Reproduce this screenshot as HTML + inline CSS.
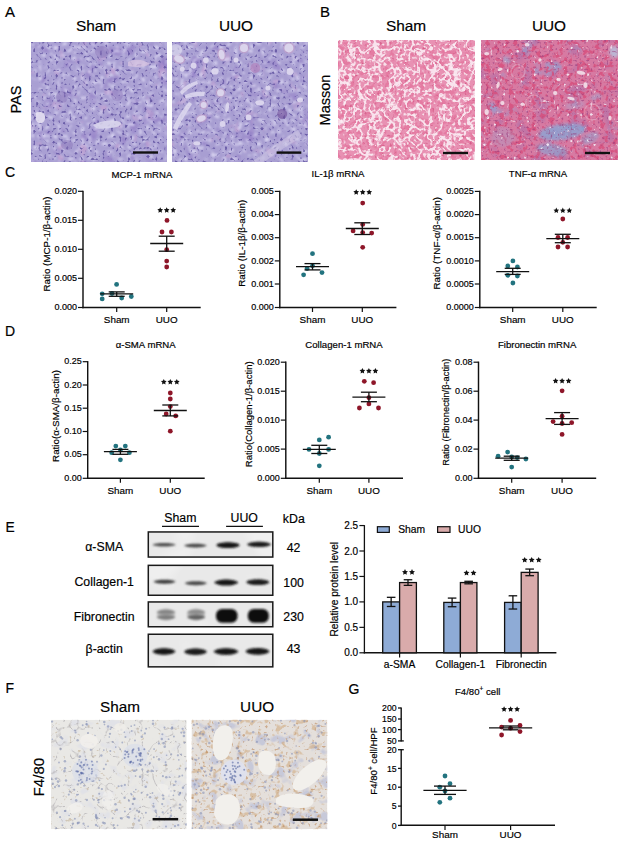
<!DOCTYPE html><html><head><meta charset="utf-8"><style>html,body{margin:0;padding:0;background:#fff;width:624px;height:845px;overflow:hidden;position:relative}</style></head><body><svg width="624" height="845" viewBox="0 0 624 845" style="position:absolute;left:0;top:0">
<defs><filter id="bl6" x="-5%" y="-5%" width="110%" height="110%"><feGaussianBlur stdDeviation="0.6"/></filter><filter id="bl8" x="-5%" y="-5%" width="110%" height="110%"><feGaussianBlur stdDeviation="0.9"/></filter><filter id="bl15" x="-5%" y="-5%" width="110%" height="110%"><feGaussianBlur stdDeviation="1.6"/></filter><filter id="pd" x="0" y="0" width="100%" height="100%" color-interpolation-filters="sRGB"><feTurbulence type="fractalNoise" baseFrequency="0.36" numOctaves="1" seed="3"/><feColorMatrix type="matrix" values="0 0 0 0 0.361 0 0 0 0 0.306 0 0 0 0 0.620 7 0 0 0 -4.095"/><feComponentTransfer><feFuncA type="linear" slope="0.8"/></feComponentTransfer><feGaussianBlur stdDeviation="0.7"/></filter><filter id="pl" x="0" y="0" width="100%" height="100%" color-interpolation-filters="sRGB"><feTurbulence type="fractalNoise" baseFrequency="0.26" numOctaves="2" seed="8"/><feColorMatrix type="matrix" values="0 0 0 0 0.882 0 0 0 0 0.871 0 0 0 0 0.965 6 0 0 0 -3.300"/><feComponentTransfer><feFuncA type="linear" slope="0.9"/></feComponentTransfer><feGaussianBlur stdDeviation="0.8"/></filter><filter id="pm" x="0" y="0" width="100%" height="100%" color-interpolation-filters="sRGB"><feTurbulence type="fractalNoise" baseFrequency="0.07" numOctaves="2" seed="11"/><feColorMatrix type="matrix" values="0 0 0 0 0.588 0 0 0 0 0.510 0 0 0 0 0.784 4 0 0 0 -2.320"/></filter><filter id="pf" x="0" y="0" width="100%" height="100%" color-interpolation-filters="sRGB"><feTurbulence type="fractalNoise" baseFrequency="0.5" numOctaves="1" seed="14"/><feColorMatrix type="matrix" values="0 0 0 0 0.373 0 0 0 0 0.306 0 0 0 0 0.647 8 0 0 0 -4.960"/><feComponentTransfer><feFuncA type="linear" slope="0.6"/></feComponentTransfer><feGaussianBlur stdDeviation="0.7"/></filter><filter id="pf2" x="0" y="0" width="100%" height="100%" color-interpolation-filters="sRGB"><feTurbulence type="fractalNoise" baseFrequency="0.5" numOctaves="1" seed="34"/><feColorMatrix type="matrix" values="0 0 0 0 0.373 0 0 0 0 0.306 0 0 0 0 0.647 8 0 0 0 -4.960"/><feComponentTransfer><feFuncA type="linear" slope="0.6"/></feComponentTransfer><feGaussianBlur stdDeviation="0.7"/></filter><filter id="pk" x="0" y="0" width="100%" height="100%" color-interpolation-filters="sRGB"><feTurbulence type="fractalNoise" baseFrequency="0.09" numOctaves="2" seed="13"/><feColorMatrix type="matrix" values="0 0 0 0 0.784 0 0 0 0 0.627 0 0 0 0 0.824 5 0 0 0 -3.100"/><feComponentTransfer><feFuncA type="linear" slope="0.6"/></feComponentTransfer></filter><filter id="pd2" x="0" y="0" width="100%" height="100%" color-interpolation-filters="sRGB"><feTurbulence type="fractalNoise" baseFrequency="0.36" numOctaves="1" seed="21"/><feColorMatrix type="matrix" values="0 0 0 0 0.361 0 0 0 0 0.306 0 0 0 0 0.620 7 0 0 0 -4.095"/><feComponentTransfer><feFuncA type="linear" slope="0.8"/></feComponentTransfer><feGaussianBlur stdDeviation="0.7"/></filter><filter id="pl2" x="0" y="0" width="100%" height="100%" color-interpolation-filters="sRGB"><feTurbulence type="fractalNoise" baseFrequency="0.26" numOctaves="2" seed="28"/><feColorMatrix type="matrix" values="0 0 0 0 0.882 0 0 0 0 0.871 0 0 0 0 0.965 6 0 0 0 -3.300"/><feComponentTransfer><feFuncA type="linear" slope="0.9"/></feComponentTransfer><feGaussianBlur stdDeviation="0.8"/></filter><filter id="pm2" x="0" y="0" width="100%" height="100%" color-interpolation-filters="sRGB"><feTurbulence type="fractalNoise" baseFrequency="0.07" numOctaves="2" seed="31"/><feColorMatrix type="matrix" values="0 0 0 0 0.588 0 0 0 0 0.510 0 0 0 0 0.784 4 0 0 0 -2.320"/></filter><filter id="pk2" x="0" y="0" width="100%" height="100%" color-interpolation-filters="sRGB"><feTurbulence type="fractalNoise" baseFrequency="0.09" numOctaves="2" seed="33"/><feColorMatrix type="matrix" values="0 0 0 0 0.784 0 0 0 0 0.627 0 0 0 0 0.824 5 0 0 0 -3.100"/><feComponentTransfer><feFuncA type="linear" slope="0.6"/></feComponentTransfer></filter><clipPath id="c1"><rect x="31" y="42" width="136" height="120"/></clipPath><clipPath id="c2"><rect x="172" y="42" width="136" height="120"/></clipPath><filter id="mt" x="0" y="0" width="100%" height="100%" color-interpolation-filters="sRGB"><feTurbulence type="fractalNoise" baseFrequency="0.2" numOctaves="2" seed="5"/><feColorMatrix type="matrix" values="0 0 0 0 0.882 0 0 0 0 0.392 0 0 0 0 0.569 6 0 0 0 -2.880"/><feComponentTransfer><feFuncA type="linear" slope="0.5"/></feComponentTransfer><feGaussianBlur stdDeviation="0.6"/></filter><filter id="mv" x="0" y="0" width="100%" height="100%" color-interpolation-filters="sRGB"><feTurbulence type="turbulence" baseFrequency="0.1" numOctaves="2" seed="6"/><feColorMatrix type="matrix" values="0 0 0 0 0.980 0 0 0 0 0.925 0 0 0 0 0.957 -10 0 0 0 2.000"/><feComponentTransfer><feFuncA type="linear" slope="0.9"/></feComponentTransfer><feGaussianBlur stdDeviation="0.7"/></filter><filter id="mw" x="0" y="0" width="100%" height="100%" color-interpolation-filters="sRGB"><feTurbulence type="fractalNoise" baseFrequency="0.3" numOctaves="1" seed="7"/><feColorMatrix type="matrix" values="0 0 0 0 0.980 0 0 0 0 0.933 0 0 0 0 0.953 7 0 0 0 -3.920"/><feComponentTransfer><feFuncA type="linear" slope="0.85"/></feComponentTransfer><feGaussianBlur stdDeviation="0.7"/></filter><filter id="md" x="0" y="0" width="100%" height="100%" color-interpolation-filters="sRGB"><feTurbulence type="fractalNoise" baseFrequency="0.4" numOctaves="1" seed="9"/><feColorMatrix type="matrix" values="0 0 0 0 0.784 0 0 0 0 0.235 0 0 0 0 0.431 7 0 0 0 -4.340"/><feComponentTransfer><feFuncA type="linear" slope="0.5"/></feComponentTransfer><feGaussianBlur stdDeviation="0.5"/></filter><clipPath id="c3"><rect x="338" y="40" width="137" height="120"/></clipPath><filter id="ub" x="0" y="0" width="100%" height="100%" color-interpolation-filters="sRGB"><feTurbulence type="fractalNoise" baseFrequency="0.05" numOctaves="3" seed="15"/><feColorMatrix type="matrix" values="0 0 0 0 0.510 0 0 0 0 0.667 0 0 0 0 0.863 5 0 0 0 -3.200"/><feComponentTransfer><feFuncA type="linear" slope="0.6"/></feComponentTransfer></filter><filter id="up" x="0" y="0" width="100%" height="100%" color-interpolation-filters="sRGB"><feTurbulence type="fractalNoise" baseFrequency="0.06" numOctaves="2" seed="16"/><feColorMatrix type="matrix" values="0 0 0 0 0.647 0 0 0 0 0.431 0 0 0 0 0.667 5 0 0 0 -2.750"/><feComponentTransfer><feFuncA type="linear" slope="0.5"/></feComponentTransfer></filter><filter id="ut" x="0" y="0" width="100%" height="100%" color-interpolation-filters="sRGB"><feTurbulence type="fractalNoise" baseFrequency="0.22" numOctaves="2" seed="17"/><feColorMatrix type="matrix" values="0 0 0 0 0.843 0 0 0 0 0.294 0 0 0 0 0.471 7 0 0 0 -3.640"/><feComponentTransfer><feFuncA type="linear" slope="0.75"/></feComponentTransfer><feGaussianBlur stdDeviation="0.7"/></filter><filter id="uw" x="0" y="0" width="100%" height="100%" color-interpolation-filters="sRGB"><feTurbulence type="fractalNoise" baseFrequency="0.3" numOctaves="1" seed="19"/><feColorMatrix type="matrix" values="0 0 0 0 0.961 0 0 0 0 0.922 0 0 0 0 0.961 9 0 0 0 -5.940"/><feComponentTransfer><feFuncA type="linear" slope="0.9"/></feComponentTransfer><feGaussianBlur stdDeviation="0.5"/></filter><filter id="ud" x="0" y="0" width="100%" height="100%" color-interpolation-filters="sRGB"><feTurbulence type="fractalNoise" baseFrequency="0.45" numOctaves="1" seed="23"/><feColorMatrix type="matrix" values="0 0 0 0 0.588 0 0 0 0 0.235 0 0 0 0 0.490 7 0 0 0 -4.200"/><feComponentTransfer><feFuncA type="linear" slope="0.6"/></feComponentTransfer><feGaussianBlur stdDeviation="0.6"/></filter><clipPath id="c4"><rect x="481" y="40" width="137" height="120"/></clipPath><filter id="bb1" x="-5%" y="-5%" width="110%" height="110%"><feGaussianBlur stdDeviation="1.0"/></filter><filter id="bb2" x="-5%" y="-5%" width="110%" height="110%"><feGaussianBlur stdDeviation="0.8"/></filter><filter id="wbn" x="0" y="0" width="100%" height="100%" color-interpolation-filters="sRGB"><feTurbulence type="fractalNoise" baseFrequency="0.02" numOctaves="2" seed="41"/><feColorMatrix type="matrix" values="0 0 0 0 0.961 0 0 0 0 0.961 0 0 0 0 0.961 5 0 0 0 -2.750"/><feComponentTransfer><feFuncA type="linear" slope="0.5"/></feComponentTransfer></filter><filter id="fs1" x="0" y="0" width="100%" height="100%" color-interpolation-filters="sRGB"><feTurbulence type="fractalNoise" baseFrequency="0.1" numOctaves="2" seed="51"/><feColorMatrix type="matrix" values="0 0 0 0 0.863 0 0 0 0 0.871 0 0 0 0 0.910 6 0 0 0 -3.300"/><feComponentTransfer><feFuncA type="linear" slope="0.6"/></feComponentTransfer><feGaussianBlur stdDeviation="0.6"/></filter><filter id="fsv" x="0" y="0" width="100%" height="100%" color-interpolation-filters="sRGB"><feTurbulence type="turbulence" baseFrequency="0.07" numOctaves="2" seed="57"/><feColorMatrix type="matrix" values="0 0 0 0 0.686 0 0 0 0 0.675 0 0 0 0 0.686 -10 0 0 0 1.000"/><feComponentTransfer><feFuncA type="linear" slope="0.65"/></feComponentTransfer><feGaussianBlur stdDeviation="0.5"/></filter><filter id="fsb" x="0" y="0" width="100%" height="100%" color-interpolation-filters="sRGB"><feTurbulence type="fractalNoise" baseFrequency="0.22" numOctaves="2" seed="55"/><feColorMatrix type="matrix" values="0 0 0 0 0.686 0 0 0 0 0.588 0 0 0 0 0.451 8 0 0 0 -5.440"/><feComponentTransfer><feFuncA type="linear" slope="0.4"/></feComponentTransfer><feGaussianBlur stdDeviation="0.5"/></filter><clipPath id="c5"><rect x="51" y="719.7" width="135.7" height="109.5"/></clipPath><filter id="fu1" x="0" y="0" width="100%" height="100%" color-interpolation-filters="sRGB"><feTurbulence type="fractalNoise" baseFrequency="0.16" numOctaves="2" seed="71"/><feColorMatrix type="matrix" values="0 0 0 0 0.804 0 0 0 0 0.647 0 0 0 0 0.471 7 0 0 0 -4.060"/><feComponentTransfer><feFuncA type="linear" slope="0.55"/></feComponentTransfer><feGaussianBlur stdDeviation="0.5"/></filter><filter id="fu2" x="0" y="0" width="100%" height="100%" color-interpolation-filters="sRGB"><feTurbulence type="fractalNoise" baseFrequency="0.09" numOctaves="2" seed="73"/><feColorMatrix type="matrix" values="0 0 0 0 0.686 0 0 0 0 0.714 0 0 0 0 0.843 6 0 0 0 -3.360"/><feComponentTransfer><feFuncA type="linear" slope="0.55"/></feComponentTransfer><feGaussianBlur stdDeviation="0.5"/></filter><filter id="fub" x="0" y="0" width="100%" height="100%" color-interpolation-filters="sRGB"><feTurbulence type="fractalNoise" baseFrequency="0.35" numOctaves="1" seed="77"/><feColorMatrix type="matrix" values="0 0 0 0 0.725 0 0 0 0 0.510 0 0 0 0 0.314 8 0 0 0 -4.960"/><feComponentTransfer><feFuncA type="linear" slope="0.55"/></feComponentTransfer><feGaussianBlur stdDeviation="0.5"/></filter><clipPath id="c6"><rect x="191.5" y="719.7" width="135.9" height="109.5"/></clipPath></defs>
<g font-family="Liberation Sans, sans-serif" stroke-linecap="butt"><style>text{stroke:#000;stroke-width:0.18px}</style>
<text x="5" y="17" font-size="15" text-anchor="start" fill="#000">A</text>
<text x="320" y="17" font-size="15" text-anchor="start" fill="#000">B</text>
<text x="96" y="31.3" font-size="15.4" text-anchor="middle" fill="#000">Sham</text>
<text x="236" y="31.3" font-size="15.4" text-anchor="middle" fill="#000">UUO</text>
<text x="406" y="31.3" font-size="15.4" text-anchor="middle" fill="#000">Sham</text>
<text x="549" y="31.3" font-size="15.4" text-anchor="middle" fill="#000">UUO</text>
<text x="21.2" y="99.5" font-size="14.5" text-anchor="middle" fill="#000" transform="rotate(-90 21.2 99.5)">PAS</text>
<text x="330" y="100" font-size="14.5" text-anchor="middle" fill="#000" transform="rotate(-90 330 100)">Masson</text>
<g clip-path="url(#c1)">
<rect x="31" y="42" width="136" height="120" fill="#a99fd3"/>
<rect x="31" y="42" width="136" height="120" filter="url(#pm)"/>
<rect x="31" y="42" width="136" height="120" filter="url(#pk)"/>
<rect x="31" y="42" width="136" height="120" filter="url(#pl)"/>
<rect x="31" y="42" width="136" height="120" filter="url(#pd)"/>
<g filter="url(#bl6)">
<path d="M93,125 C100,121 112,119 120,122 C124,124 118,128 110,128 C103,129 96,130 93,125Z" fill="#dcd8ee" opacity="0.85"/>
<path d="M36,113 C40,110 46,113 45,119 C44,124 38,125 36,120Z" fill="#e6e2f2" opacity="0.85"/>
<path d="M128,62 C135,58 145,60 150,64 C146,67 136,68 128,66Z" fill="#d8c4e2" opacity="0.75"/>
<ellipse cx="102" cy="52" rx="7" ry="6" fill="#8a74b8" opacity="0.5"/>
<ellipse cx="62" cy="97" rx="6" ry="6" fill="#8a74b8" opacity="0.45"/>
<ellipse cx="67" cy="145" rx="6" ry="5" fill="#8a74b8" opacity="0.45"/>
<ellipse cx="117" cy="95" rx="6" ry="6" fill="#8a74b8" opacity="0.4"/>
</g>
</g>
<g clip-path="url(#c2)">
<rect x="172" y="42" width="136" height="120" fill="#a89ed2"/>
<rect x="172" y="42" width="136" height="120" filter="url(#pm2)"/>
<rect x="172" y="42" width="136" height="120" filter="url(#pk2)"/>
<rect x="172" y="42" width="136" height="120" filter="url(#pl2)"/>
<rect x="172" y="42" width="136" height="120" filter="url(#pd2)"/>
<g filter="url(#bl6)">
<ellipse cx="179" cy="59" rx="6.3" ry="4.8" transform="rotate(20 179 59)" fill="#c0a2cc" opacity="0.8"/>
<ellipse cx="179" cy="59" rx="5" ry="3.5" transform="rotate(20 179 59)" fill="#dcd7ee" opacity="0.95"/>
<ellipse cx="221.6" cy="54.6" rx="4.3" ry="6.3" transform="rotate(-10 221.6 54.6)" fill="#c0a2cc" opacity="0.8"/>
<ellipse cx="221.6" cy="54.6" rx="3" ry="5" transform="rotate(-10 221.6 54.6)" fill="#dcd7ee" opacity="0.95"/>
<ellipse cx="193.6" cy="65.8" rx="3" ry="3" fill="#dcd7ee" opacity="0.95"/>
<ellipse cx="205.9" cy="60.2" rx="2.8" ry="2.8" fill="#dcd7ee" opacity="0.95"/>
<ellipse cx="214.9" cy="71.4" rx="3.5" ry="3.2" fill="#dcd7ee" opacity="0.95"/>
<ellipse cx="182.3" cy="69.2" rx="2.5" ry="2.5" fill="#dcd7ee" opacity="0.95"/>
<path d="M180,92 C184,86 190,83 197,81 L198,84 C192,86 186,90 182,95Z" fill="#dcd7ee" opacity="0.9"/>
<path d="M185,95 C191,92 199,91 205,92 L204,96 C198,96 191,97 186,98Z" fill="#dcd7ee" opacity="0.9"/>
<ellipse cx="220.5" cy="92.7" rx="4.8" ry="4.8" fill="#c0a2cc" opacity="0.8"/>
<ellipse cx="220.5" cy="92.7" rx="3.5" ry="3.5" fill="#dcd7ee" opacity="0.95"/>
<path d="M173,128 C176,120 182,110 189,102 L192,104 C187,112 181,121 177,130Z" fill="#dcd7ee" opacity="0.9"/>
<ellipse cx="201.4" cy="118.5" rx="5.8" ry="4.1" transform="rotate(-20 201.4 118.5)" fill="#c0a2cc" opacity="0.8"/>
<ellipse cx="201.4" cy="118.5" rx="4.5" ry="2.8" transform="rotate(-20 201.4 118.5)" fill="#dcd7ee" opacity="0.95"/>
<ellipse cx="227.2" cy="107.3" rx="1.8" ry="5" transform="rotate(10 227.2 107.3)" fill="#dcd7ee" opacity="0.95"/>
<ellipse cx="222.7" cy="124.1" rx="3" ry="3" fill="#dcd7ee" opacity="0.95"/>
<ellipse cx="196.9" cy="143.2" rx="3.5" ry="2" fill="#dcd7ee" opacity="0.95"/>
<path d="M252,162 C265,152 280,141 298,130 L302,137 C285,147 270,157 262,164Z" fill="#cfc8e6" opacity="0.55"/>
<ellipse cx="244" cy="47.9" rx="5.3" ry="5.3" fill="#c0a2cc" opacity="0.8"/>
<ellipse cx="244" cy="47.9" rx="4" ry="4" fill="#dcd7ee" opacity="0.95"/>
<ellipse cx="255.3" cy="68" rx="5" ry="5" fill="#b07ab8" opacity="0.6"/>
<ellipse cx="290" cy="71.4" rx="3.5" ry="3.5" fill="#dcd7ee" opacity="0.95"/>
<ellipse cx="288.9" cy="47.9" rx="5.8" ry="5.8" fill="#c0a2cc" opacity="0.8"/>
<ellipse cx="288.9" cy="47.9" rx="4.5" ry="4.5" fill="#dcd7ee" opacity="0.95"/>
<ellipse cx="259.7" cy="102.8" rx="4.5" ry="2.5" fill="#dcd7ee" opacity="0.95"/>
<ellipse cx="248.5" cy="117.4" rx="3" ry="3" fill="#dcd7ee" opacity="0.95"/>
<ellipse cx="282.2" cy="114" rx="5" ry="5" fill="#6e4c98" opacity="0.6"/>
<ellipse cx="203.7" cy="105" rx="4.3" ry="4.3" fill="#c0a2cc" opacity="0.8"/>
<ellipse cx="203.7" cy="105" rx="3" ry="3" fill="#dcd7ee" opacity="0.95"/>
<ellipse cx="176" cy="50" rx="6" ry="6" fill="#dcd8ee" opacity="0.7"/>
<ellipse cx="236" cy="60" rx="2.5" ry="2.5" fill="#dcd7ee" opacity="0.95"/>
<ellipse cx="268" cy="88" rx="2.5" ry="2.5" fill="#dcd7ee" opacity="0.95"/>
<ellipse cx="300" cy="100" rx="3" ry="2.5" fill="#dcd7ee" opacity="0.95"/>
</g>
</g>
<g clip-path="url(#c3)">
<rect x="338" y="40" width="137" height="120" fill="#e891b3"/>
<rect x="338" y="40" width="137" height="120" filter="url(#mt)"/>
<rect x="338" y="40" width="137" height="120" filter="url(#mv)"/>
<rect x="338" y="40" width="137" height="120" filter="url(#mw)"/>
<rect x="338" y="40" width="137" height="120" filter="url(#md)"/>
</g>
<g clip-path="url(#c4)">
<rect x="481" y="40" width="137" height="120" fill="#d77aa2"/>
<rect x="481" y="40" width="137" height="120" filter="url(#up)"/>
<rect x="481" y="40" width="137" height="120" filter="url(#ub)"/>
<rect x="481" y="40" width="137" height="120" filter="url(#ut)"/>
<g filter="url(#bl15)">
<ellipse cx="562" cy="132" rx="24" ry="8" transform="rotate(-8 562 132)" fill="#72b4e6" opacity="0.6"/>
<ellipse cx="552" cy="150" rx="16" ry="6" transform="rotate(10 552 150)" fill="#72b4e6" opacity="0.5"/>
<ellipse cx="590" cy="138" rx="10" ry="5" transform="rotate(-25 590 138)" fill="#80b8e4" opacity="0.45"/>
<ellipse cx="503" cy="137" rx="12" ry="10" fill="#9ab0d8" opacity="0.3"/>
<ellipse cx="507" cy="60" rx="5" ry="3" transform="rotate(30 507 60)" fill="#8fb8e0" opacity="0.6"/>
<ellipse cx="614" cy="52" rx="5" ry="6" fill="#b0d0e8" opacity="0.7"/>
<ellipse cx="596" cy="97" rx="6" ry="2.5" transform="rotate(-20 596 97)" fill="#8fb8e0" opacity="0.5"/>
<ellipse cx="575" cy="105" rx="10" ry="4" transform="rotate(-10 575 105)" fill="#9ab8e0" opacity="0.35"/>
</g>
<rect x="481" y="40" width="137" height="120" filter="url(#uw)"/>
<rect x="481" y="40" width="137" height="120" filter="url(#ud)"/>
<g filter="url(#bl6)">
<ellipse cx="581" cy="72.8" rx="4.25" ry="1.87" transform="rotate(10 581 72.8)" fill="#f6eef4" opacity="0.8"/>
<ellipse cx="558.5" cy="79.5" rx="2.125" ry="1.7" fill="#f6eef4" opacity="0.8"/>
<ellipse cx="585.5" cy="85.1" rx="2.125" ry="2.975" fill="#f6eef4" opacity="0.8"/>
<ellipse cx="570.9" cy="98.6" rx="3.8249999999999997" ry="1.53" transform="rotate(15 570.9 98.6)" fill="#f6eef4" opacity="0.8"/>
<ellipse cx="555.2" cy="93" rx="2.125" ry="2.125" fill="#f6eef4" opacity="0.8"/>
<ellipse cx="498" cy="85.1" rx="1.53" ry="3.4" transform="rotate(15 498 85.1)" fill="#f6eef4" opacity="0.8"/>
<ellipse cx="486.7" cy="112" rx="2.125" ry="2.975" fill="#f6eef4" opacity="0.8"/>
<ellipse cx="502.4" cy="103" rx="2.125" ry="2.125" fill="#f6eef4" opacity="0.8"/>
<ellipse cx="522.6" cy="104.2" rx="2.125" ry="1.7" fill="#f6eef4" opacity="0.8"/>
<ellipse cx="486.7" cy="53.7" rx="2.55" ry="1.7" fill="#f6eef4" opacity="0.8"/>
<ellipse cx="500.2" cy="69.4" rx="2.55" ry="1.53" transform="rotate(-20 500.2 69.4)" fill="#f6eef4" opacity="0.8"/>
<ellipse cx="527" cy="44.7" rx="2.55" ry="1.7" fill="#f6eef4" opacity="0.8"/>
<ellipse cx="610" cy="118" rx="1.7" ry="2.55" fill="#f6eef4" opacity="0.8"/>
<ellipse cx="540" cy="60" rx="1.7" ry="1.7" fill="#f6eef4" opacity="0.8"/>
<ellipse cx="592.2" cy="112" rx="8" ry="8" fill="none" opacity="0.35" stroke="#f0d0e0" stroke-width="1.3"/>
<ellipse cx="533.8" cy="103" rx="8" ry="8" fill="none" opacity="0.35" stroke="#f0d0e0" stroke-width="1.3"/>
<ellipse cx="518" cy="71.7" rx="7" ry="7" fill="none" opacity="0.35" stroke="#f0d0e0" stroke-width="1.3"/>
</g>
</g>
<line x1="133" y1="152.5" x2="158" y2="152.5" stroke="#111" stroke-width="2.4"/>
<line x1="276.6" y1="152.6" x2="301.3" y2="152.6" stroke="#111" stroke-width="2.4"/>
<line x1="443" y1="153" x2="468" y2="153" stroke="#111" stroke-width="2.4"/>
<line x1="585" y1="153" x2="610" y2="153" stroke="#111" stroke-width="2.4"/>
<line x1="83" y1="190.70000000000002" x2="83" y2="308.2" stroke="#111" stroke-width="1.45"/>
<line x1="82.3" y1="307.5" x2="200.7" y2="307.5" stroke="#111" stroke-width="1.45"/>
<line x1="78" y1="191.3" x2="83" y2="191.3" stroke="#111" stroke-width="1.2"/>
<text x="77" y="194.0" font-size="9" text-anchor="end" fill="#000">0.020</text>
<line x1="78" y1="220.3" x2="83" y2="220.3" stroke="#111" stroke-width="1.2"/>
<text x="77" y="223.0" font-size="9" text-anchor="end" fill="#000">0.015</text>
<line x1="78" y1="249.3" x2="83" y2="249.3" stroke="#111" stroke-width="1.2"/>
<text x="77" y="252.0" font-size="9" text-anchor="end" fill="#000">0.010</text>
<line x1="78" y1="278.3" x2="83" y2="278.3" stroke="#111" stroke-width="1.2"/>
<text x="77" y="281.0" font-size="9" text-anchor="end" fill="#000">0.005</text>
<line x1="78" y1="307.5" x2="83" y2="307.5" stroke="#111" stroke-width="1.2"/>
<text x="77" y="310.2" font-size="9" text-anchor="end" fill="#000">0.000</text>
<line x1="116.7" y1="307.5" x2="116.7" y2="312.0" stroke="#111" stroke-width="1.2"/>
<line x1="166.7" y1="307.5" x2="166.7" y2="312.0" stroke="#111" stroke-width="1.2"/>
<text x="116.7" y="322.8" font-size="9.9" text-anchor="middle" fill="#000">Sham</text>
<text x="166.7" y="322.8" font-size="9.9" text-anchor="middle" fill="#000">UUO</text>
<text x="142" y="178" font-size="9.6" text-anchor="middle" fill="#000">MCP-1 mRNA</text>
<text x="49.5" y="244" font-size="9.8" text-anchor="middle" fill="#000" transform="rotate(-90 49.5 244)">Ratio (MCP-1/β-actin)</text>
<circle cx="116.6" cy="284.4" r="2.4" fill="#22737f"/>
<circle cx="102.2" cy="293.8" r="2.4" fill="#22737f"/>
<circle cx="102.2" cy="298.9" r="2.4" fill="#22737f"/>
<circle cx="121.7" cy="298.0" r="2.4" fill="#22737f"/>
<circle cx="131.3" cy="296.5" r="2.4" fill="#22737f"/>
<circle cx="112.0" cy="293.5" r="2.4" fill="#22737f"/>
<circle cx="167.0" cy="220.4" r="2.4" fill="#8e1629"/>
<circle cx="162.0" cy="232.0" r="2.4" fill="#8e1629"/>
<circle cx="171.4" cy="232.0" r="2.4" fill="#8e1629"/>
<circle cx="166.7" cy="249.7" r="2.4" fill="#8e1629"/>
<circle cx="166.7" cy="261.1" r="2.4" fill="#8e1629"/>
<circle cx="166.7" cy="267.0" r="2.4" fill="#8e1629"/>
<line x1="100.2" y1="293.8" x2="133.2" y2="293.8" stroke="#111" stroke-width="1.3"/>
<line x1="108.7" y1="291.9" x2="124.7" y2="291.9" stroke="#111" stroke-width="1.3"/>
<line x1="108.7" y1="296.3" x2="124.7" y2="296.3" stroke="#111" stroke-width="1.3"/>
<line x1="116.7" y1="291.9" x2="116.7" y2="296.3" stroke="#111" stroke-width="1.3"/>
<line x1="150.2" y1="243.5" x2="183.2" y2="243.5" stroke="#111" stroke-width="1.3"/>
<line x1="158.7" y1="236.2" x2="174.7" y2="236.2" stroke="#111" stroke-width="1.3"/>
<line x1="158.7" y1="251.2" x2="174.7" y2="251.2" stroke="#111" stroke-width="1.3"/>
<line x1="166.7" y1="236.2" x2="166.7" y2="251.2" stroke="#111" stroke-width="1.3"/>
<polygon points="160.20,207.30 161.08,209.09 163.05,209.37 161.63,210.76 161.96,212.73 160.20,211.80 158.44,212.73 158.77,210.76 157.35,209.37 159.32,209.09" fill="#111"/>
<polygon points="166.70,207.30 167.58,209.09 169.55,209.37 168.13,210.76 168.46,212.73 166.70,211.80 164.94,212.73 165.27,210.76 163.85,209.37 165.82,209.09" fill="#111"/>
<polygon points="173.20,207.30 174.08,209.09 176.05,209.37 174.63,210.76 174.96,212.73 173.20,211.80 171.44,212.73 171.77,210.76 170.35,209.37 172.32,209.09" fill="#111"/>
<text x="5" y="177" font-size="14" text-anchor="start" fill="#000">C</text>
<line x1="279.8" y1="190.8" x2="279.8" y2="308.2" stroke="#111" stroke-width="1.45"/>
<line x1="279.1" y1="307.5" x2="396.4" y2="307.5" stroke="#111" stroke-width="1.45"/>
<line x1="274.8" y1="191.4" x2="279.8" y2="191.4" stroke="#111" stroke-width="1.2"/>
<text x="273.8" y="194.1" font-size="9" text-anchor="end" fill="#000">0.005</text>
<line x1="274.8" y1="214.6" x2="279.8" y2="214.6" stroke="#111" stroke-width="1.2"/>
<text x="273.8" y="217.29999999999998" font-size="9" text-anchor="end" fill="#000">0.004</text>
<line x1="274.8" y1="237.7" x2="279.8" y2="237.7" stroke="#111" stroke-width="1.2"/>
<text x="273.8" y="240.39999999999998" font-size="9" text-anchor="end" fill="#000">0.003</text>
<line x1="274.8" y1="260.9" x2="279.8" y2="260.9" stroke="#111" stroke-width="1.2"/>
<text x="273.8" y="263.59999999999997" font-size="9" text-anchor="end" fill="#000">0.002</text>
<line x1="274.8" y1="284.0" x2="279.8" y2="284.0" stroke="#111" stroke-width="1.2"/>
<text x="273.8" y="286.7" font-size="9" text-anchor="end" fill="#000">0.001</text>
<line x1="274.8" y1="307.5" x2="279.8" y2="307.5" stroke="#111" stroke-width="1.2"/>
<text x="273.8" y="310.2" font-size="9" text-anchor="end" fill="#000">0.000</text>
<line x1="312.5" y1="307.5" x2="312.5" y2="312.0" stroke="#111" stroke-width="1.2"/>
<line x1="362.3" y1="307.5" x2="362.3" y2="312.0" stroke="#111" stroke-width="1.2"/>
<text x="312.5" y="322.8" font-size="9.9" text-anchor="middle" fill="#000">Sham</text>
<text x="362.3" y="322.8" font-size="9.9" text-anchor="middle" fill="#000">UUO</text>
<text x="338" y="177.3" font-size="9.6" text-anchor="middle" fill="#000">IL-1β mRNA</text>
<text x="245" y="243.3" font-size="9.8" text-anchor="middle" fill="#000" transform="rotate(-90 245 243.3)">Ratio (IL-1β/β-actin)</text>
<circle cx="312.5" cy="253.7" r="2.4" fill="#22737f"/>
<circle cx="303.6" cy="274.8" r="2.4" fill="#22737f"/>
<circle cx="322.0" cy="272.6" r="2.4" fill="#22737f"/>
<circle cx="312.5" cy="265.8" r="2.4" fill="#22737f"/>
<circle cx="307.1" cy="268.5" r="2.4" fill="#22737f"/>
<circle cx="362.7" cy="203.1" r="2.4" fill="#8e1629"/>
<circle cx="353.1" cy="230.9" r="2.4" fill="#8e1629"/>
<circle cx="362.7" cy="224.4" r="2.4" fill="#8e1629"/>
<circle cx="371.7" cy="233.1" r="2.4" fill="#8e1629"/>
<circle cx="362.7" cy="232.6" r="2.4" fill="#8e1629"/>
<circle cx="362.7" cy="247.3" r="2.4" fill="#8e1629"/>
<line x1="296.0" y1="266.7" x2="329.0" y2="266.7" stroke="#111" stroke-width="1.3"/>
<line x1="304.5" y1="263.6" x2="320.5" y2="263.6" stroke="#111" stroke-width="1.3"/>
<line x1="304.5" y1="269.9" x2="320.5" y2="269.9" stroke="#111" stroke-width="1.3"/>
<line x1="312.5" y1="263.6" x2="312.5" y2="269.9" stroke="#111" stroke-width="1.3"/>
<line x1="345.8" y1="228.5" x2="378.8" y2="228.5" stroke="#111" stroke-width="1.3"/>
<line x1="354.3" y1="222.8" x2="370.3" y2="222.8" stroke="#111" stroke-width="1.3"/>
<line x1="354.3" y1="234.5" x2="370.3" y2="234.5" stroke="#111" stroke-width="1.3"/>
<line x1="362.3" y1="222.8" x2="362.3" y2="234.5" stroke="#111" stroke-width="1.3"/>
<polygon points="356.20,189.20 357.08,190.99 359.05,191.27 357.63,192.66 357.96,194.63 356.20,193.70 354.44,194.63 354.77,192.66 353.35,191.27 355.32,190.99" fill="#111"/>
<polygon points="362.70,189.20 363.58,190.99 365.55,191.27 364.13,192.66 364.46,194.63 362.70,193.70 360.94,194.63 361.27,192.66 359.85,191.27 361.82,190.99" fill="#111"/>
<polygon points="369.20,189.20 370.08,190.99 372.05,191.27 370.63,192.66 370.96,194.63 369.20,193.70 367.44,194.63 367.77,192.66 366.35,191.27 368.32,190.99" fill="#111"/>
<line x1="479.8" y1="190.8" x2="479.8" y2="308.2" stroke="#111" stroke-width="1.45"/>
<line x1="479.1" y1="307.5" x2="596.7" y2="307.5" stroke="#111" stroke-width="1.45"/>
<line x1="474.8" y1="191.4" x2="479.8" y2="191.4" stroke="#111" stroke-width="1.2"/>
<text x="473.8" y="194.1" font-size="9" text-anchor="end" fill="#000">0.0025</text>
<line x1="474.8" y1="214.6" x2="479.8" y2="214.6" stroke="#111" stroke-width="1.2"/>
<text x="473.8" y="217.29999999999998" font-size="9" text-anchor="end" fill="#000">0.0020</text>
<line x1="474.8" y1="237.7" x2="479.8" y2="237.7" stroke="#111" stroke-width="1.2"/>
<text x="473.8" y="240.39999999999998" font-size="9" text-anchor="end" fill="#000">0.0015</text>
<line x1="474.8" y1="260.9" x2="479.8" y2="260.9" stroke="#111" stroke-width="1.2"/>
<text x="473.8" y="263.59999999999997" font-size="9" text-anchor="end" fill="#000">0.0010</text>
<line x1="474.8" y1="284.0" x2="479.8" y2="284.0" stroke="#111" stroke-width="1.2"/>
<text x="473.8" y="286.7" font-size="9" text-anchor="end" fill="#000">0.0005</text>
<line x1="474.8" y1="307.5" x2="479.8" y2="307.5" stroke="#111" stroke-width="1.2"/>
<text x="473.8" y="310.2" font-size="9" text-anchor="end" fill="#000">0.0000</text>
<line x1="512.7" y1="307.5" x2="512.7" y2="312.0" stroke="#111" stroke-width="1.2"/>
<line x1="562.8" y1="307.5" x2="562.8" y2="312.0" stroke="#111" stroke-width="1.2"/>
<text x="512.7" y="322.8" font-size="9.9" text-anchor="middle" fill="#000">Sham</text>
<text x="562.8" y="322.8" font-size="9.9" text-anchor="middle" fill="#000">UUO</text>
<text x="538" y="177.3" font-size="9.6" text-anchor="middle" fill="#000">TNF-α mRNA</text>
<text x="440.5" y="243.3" font-size="9.8" text-anchor="middle" fill="#000" transform="rotate(-90 440.5 243.3)">Ratio (TNF-α/β-actin)</text>
<circle cx="512.9" cy="260.9" r="2.4" fill="#22737f"/>
<circle cx="507.8" cy="266.0" r="2.4" fill="#22737f"/>
<circle cx="517.4" cy="267.0" r="2.4" fill="#22737f"/>
<circle cx="507.8" cy="275.3" r="2.4" fill="#22737f"/>
<circle cx="517.4" cy="276.0" r="2.4" fill="#22737f"/>
<circle cx="512.9" cy="283.0" r="2.4" fill="#22737f"/>
<circle cx="562.8" cy="219.0" r="2.4" fill="#8e1629"/>
<circle cx="558.0" cy="237.5" r="2.4" fill="#8e1629"/>
<circle cx="567.6" cy="237.5" r="2.4" fill="#8e1629"/>
<circle cx="562.8" cy="242.3" r="2.4" fill="#8e1629"/>
<circle cx="558.0" cy="247.0" r="2.4" fill="#8e1629"/>
<circle cx="567.6" cy="247.0" r="2.4" fill="#8e1629"/>
<line x1="496.20000000000005" y1="271.7" x2="529.2" y2="271.7" stroke="#111" stroke-width="1.3"/>
<line x1="504.70000000000005" y1="268.3" x2="520.7" y2="268.3" stroke="#111" stroke-width="1.3"/>
<line x1="504.70000000000005" y1="274.4" x2="520.7" y2="274.4" stroke="#111" stroke-width="1.3"/>
<line x1="512.7" y1="268.3" x2="512.7" y2="274.4" stroke="#111" stroke-width="1.3"/>
<line x1="546.3" y1="238.7" x2="579.3" y2="238.7" stroke="#111" stroke-width="1.3"/>
<line x1="554.8" y1="234.3" x2="570.8" y2="234.3" stroke="#111" stroke-width="1.3"/>
<line x1="554.8" y1="242.7" x2="570.8" y2="242.7" stroke="#111" stroke-width="1.3"/>
<line x1="562.8" y1="234.3" x2="562.8" y2="242.7" stroke="#111" stroke-width="1.3"/>
<polygon points="556.30,207.60 557.18,209.39 559.15,209.67 557.73,211.06 558.06,213.03 556.30,212.10 554.54,213.03 554.87,211.06 553.45,209.67 555.42,209.39" fill="#111"/>
<polygon points="562.80,207.60 563.68,209.39 565.65,209.67 564.23,211.06 564.56,213.03 562.80,212.10 561.04,213.03 561.37,211.06 559.95,209.67 561.92,209.39" fill="#111"/>
<polygon points="569.30,207.60 570.18,209.39 572.15,209.67 570.73,211.06 571.06,213.03 569.30,212.10 567.54,213.03 567.87,211.06 566.45,209.67 568.42,209.39" fill="#111"/>
<line x1="87.7" y1="361.09999999999997" x2="87.7" y2="479.0" stroke="#111" stroke-width="1.45"/>
<line x1="87.0" y1="478.3" x2="204.7" y2="478.3" stroke="#111" stroke-width="1.45"/>
<line x1="82.7" y1="361.7" x2="87.7" y2="361.7" stroke="#111" stroke-width="1.2"/>
<text x="81.7" y="364.4" font-size="9" text-anchor="end" fill="#000">0.25</text>
<line x1="82.7" y1="385.0" x2="87.7" y2="385.0" stroke="#111" stroke-width="1.2"/>
<text x="81.7" y="387.7" font-size="9" text-anchor="end" fill="#000">0.20</text>
<line x1="82.7" y1="408.2" x2="87.7" y2="408.2" stroke="#111" stroke-width="1.2"/>
<text x="81.7" y="410.9" font-size="9" text-anchor="end" fill="#000">0.15</text>
<line x1="82.7" y1="431.5" x2="87.7" y2="431.5" stroke="#111" stroke-width="1.2"/>
<text x="81.7" y="434.2" font-size="9" text-anchor="end" fill="#000">0.10</text>
<line x1="82.7" y1="454.7" x2="87.7" y2="454.7" stroke="#111" stroke-width="1.2"/>
<text x="81.7" y="457.4" font-size="9" text-anchor="end" fill="#000">0.05</text>
<line x1="82.7" y1="478.3" x2="87.7" y2="478.3" stroke="#111" stroke-width="1.2"/>
<text x="81.7" y="481.0" font-size="9" text-anchor="end" fill="#000">0.00</text>
<line x1="120.4" y1="478.3" x2="120.4" y2="482.8" stroke="#111" stroke-width="1.2"/>
<line x1="170.3" y1="478.3" x2="170.3" y2="482.8" stroke="#111" stroke-width="1.2"/>
<text x="120.4" y="493.6" font-size="9.9" text-anchor="middle" fill="#000">Sham</text>
<text x="170.3" y="493.6" font-size="9.9" text-anchor="middle" fill="#000">UUO</text>
<text x="145.7" y="348.1" font-size="9.6" text-anchor="middle" fill="#000">α-SMA mRNA</text>
<text x="58.5" y="416" font-size="9.8" text-anchor="middle" fill="#000" transform="rotate(-90 58.5 416)">Ratio(α-SMA/β-actin)</text>
<circle cx="115.8" cy="446.1" r="2.4" fill="#22737f"/>
<circle cx="125.3" cy="446.1" r="2.4" fill="#22737f"/>
<circle cx="111.7" cy="452.7" r="2.4" fill="#22737f"/>
<circle cx="129.4" cy="452.7" r="2.4" fill="#22737f"/>
<circle cx="120.4" cy="459.8" r="2.4" fill="#22737f"/>
<circle cx="120.4" cy="450.0" r="2.4" fill="#22737f"/>
<circle cx="170.3" cy="393.0" r="2.4" fill="#8e1629"/>
<circle cx="170.3" cy="399.0" r="2.4" fill="#8e1629"/>
<circle cx="170.3" cy="406.6" r="2.4" fill="#8e1629"/>
<circle cx="166.2" cy="414.0" r="2.4" fill="#8e1629"/>
<circle cx="175.7" cy="415.9" r="2.4" fill="#8e1629"/>
<circle cx="170.3" cy="431.2" r="2.4" fill="#8e1629"/>
<line x1="103.9" y1="451.6" x2="136.9" y2="451.6" stroke="#111" stroke-width="1.3"/>
<line x1="112.4" y1="449.4" x2="128.4" y2="449.4" stroke="#111" stroke-width="1.3"/>
<line x1="112.4" y1="454.3" x2="128.4" y2="454.3" stroke="#111" stroke-width="1.3"/>
<line x1="120.4" y1="449.4" x2="120.4" y2="454.3" stroke="#111" stroke-width="1.3"/>
<line x1="153.8" y1="410.5" x2="186.8" y2="410.5" stroke="#111" stroke-width="1.3"/>
<line x1="162.3" y1="405" x2="178.3" y2="405" stroke="#111" stroke-width="1.3"/>
<line x1="162.3" y1="415.9" x2="178.3" y2="415.9" stroke="#111" stroke-width="1.3"/>
<line x1="170.3" y1="405" x2="170.3" y2="415.9" stroke="#111" stroke-width="1.3"/>
<polygon points="163.80,379.00 164.68,380.79 166.65,381.07 165.23,382.46 165.56,384.43 163.80,383.50 162.04,384.43 162.37,382.46 160.95,381.07 162.92,380.79" fill="#111"/>
<polygon points="170.30,379.00 171.18,380.79 173.15,381.07 171.73,382.46 172.06,384.43 170.30,383.50 168.54,384.43 168.87,382.46 167.45,381.07 169.42,380.79" fill="#111"/>
<polygon points="176.80,379.00 177.68,380.79 179.65,381.07 178.23,382.46 178.56,384.43 176.80,383.50 175.04,384.43 175.37,382.46 173.95,381.07 175.92,380.79" fill="#111"/>
<text x="5" y="336" font-size="14" text-anchor="start" fill="#000">D</text>
<line x1="285.8" y1="361.59999999999997" x2="285.8" y2="479.0" stroke="#111" stroke-width="1.45"/>
<line x1="285.1" y1="478.3" x2="403" y2="478.3" stroke="#111" stroke-width="1.45"/>
<line x1="280.8" y1="362.2" x2="285.8" y2="362.2" stroke="#111" stroke-width="1.2"/>
<text x="279.8" y="364.9" font-size="9" text-anchor="end" fill="#000">0.020</text>
<line x1="280.8" y1="391.2" x2="285.8" y2="391.2" stroke="#111" stroke-width="1.2"/>
<text x="279.8" y="393.9" font-size="9" text-anchor="end" fill="#000">0.015</text>
<line x1="280.8" y1="420.1" x2="285.8" y2="420.1" stroke="#111" stroke-width="1.2"/>
<text x="279.8" y="422.8" font-size="9" text-anchor="end" fill="#000">0.010</text>
<line x1="280.8" y1="449.1" x2="285.8" y2="449.1" stroke="#111" stroke-width="1.2"/>
<text x="279.8" y="451.8" font-size="9" text-anchor="end" fill="#000">0.005</text>
<line x1="280.8" y1="478.3" x2="285.8" y2="478.3" stroke="#111" stroke-width="1.2"/>
<text x="279.8" y="481.0" font-size="9" text-anchor="end" fill="#000">0.000</text>
<line x1="319.3" y1="478.3" x2="319.3" y2="482.8" stroke="#111" stroke-width="1.2"/>
<line x1="368.9" y1="478.3" x2="368.9" y2="482.8" stroke="#111" stroke-width="1.2"/>
<text x="319.3" y="493.6" font-size="9.9" text-anchor="middle" fill="#000">Sham</text>
<text x="368.9" y="493.6" font-size="9.9" text-anchor="middle" fill="#000">UUO</text>
<text x="344" y="348.1" font-size="9.6" text-anchor="middle" fill="#000">Collagen-1 mRNA</text>
<text x="252" y="414.3" font-size="9.5" text-anchor="middle" fill="#000" transform="rotate(-90 252 414.3)">Ratio(Collagen-1/β-actin)</text>
<circle cx="319.3" cy="439.9" r="2.4" fill="#22737f"/>
<circle cx="328.6" cy="437.2" r="2.4" fill="#22737f"/>
<circle cx="309.0" cy="449.4" r="2.4" fill="#22737f"/>
<circle cx="328.6" cy="449.4" r="2.4" fill="#22737f"/>
<circle cx="319.3" cy="453.5" r="2.4" fill="#22737f"/>
<circle cx="319.3" cy="465.8" r="2.4" fill="#22737f"/>
<circle cx="364.3" cy="381.3" r="2.4" fill="#8e1629"/>
<circle cx="373.6" cy="382.7" r="2.4" fill="#8e1629"/>
<circle cx="368.9" cy="397.7" r="2.4" fill="#8e1629"/>
<circle cx="359.4" cy="408.0" r="2.4" fill="#8e1629"/>
<circle cx="368.9" cy="403.9" r="2.4" fill="#8e1629"/>
<circle cx="378.5" cy="408.0" r="2.4" fill="#8e1629"/>
<line x1="302.8" y1="449.4" x2="335.8" y2="449.4" stroke="#111" stroke-width="1.3"/>
<line x1="311.3" y1="445.3" x2="327.3" y2="445.3" stroke="#111" stroke-width="1.3"/>
<line x1="311.3" y1="453.5" x2="327.3" y2="453.5" stroke="#111" stroke-width="1.3"/>
<line x1="319.3" y1="445.3" x2="319.3" y2="453.5" stroke="#111" stroke-width="1.3"/>
<line x1="352.4" y1="397.1" x2="385.4" y2="397.1" stroke="#111" stroke-width="1.3"/>
<line x1="360.9" y1="392.2" x2="376.9" y2="392.2" stroke="#111" stroke-width="1.3"/>
<line x1="360.9" y1="401.7" x2="376.9" y2="401.7" stroke="#111" stroke-width="1.3"/>
<line x1="368.9" y1="392.2" x2="368.9" y2="401.7" stroke="#111" stroke-width="1.3"/>
<polygon points="362.40,368.00 363.28,369.79 365.25,370.07 363.83,371.46 364.16,373.43 362.40,372.50 360.64,373.43 360.97,371.46 359.55,370.07 361.52,369.79" fill="#111"/>
<polygon points="368.90,368.00 369.78,369.79 371.75,370.07 370.33,371.46 370.66,373.43 368.90,372.50 367.14,373.43 367.47,371.46 366.05,370.07 368.02,369.79" fill="#111"/>
<polygon points="375.40,368.00 376.28,369.79 378.25,370.07 376.83,371.46 377.16,373.43 375.40,372.50 373.64,373.43 373.97,371.46 372.55,370.07 374.52,369.79" fill="#111"/>
<line x1="478.5" y1="361.59999999999997" x2="478.5" y2="479.0" stroke="#111" stroke-width="1.45"/>
<line x1="477.8" y1="478.3" x2="596.2" y2="478.3" stroke="#111" stroke-width="1.45"/>
<line x1="473.5" y1="362.2" x2="478.5" y2="362.2" stroke="#111" stroke-width="1.2"/>
<text x="472.5" y="364.9" font-size="9" text-anchor="end" fill="#000">0.08</text>
<line x1="473.5" y1="391.2" x2="478.5" y2="391.2" stroke="#111" stroke-width="1.2"/>
<text x="472.5" y="393.9" font-size="9" text-anchor="end" fill="#000">0.06</text>
<line x1="473.5" y1="420.1" x2="478.5" y2="420.1" stroke="#111" stroke-width="1.2"/>
<text x="472.5" y="422.8" font-size="9" text-anchor="end" fill="#000">0.04</text>
<line x1="473.5" y1="449.1" x2="478.5" y2="449.1" stroke="#111" stroke-width="1.2"/>
<text x="472.5" y="451.8" font-size="9" text-anchor="end" fill="#000">0.02</text>
<line x1="473.5" y1="478.3" x2="478.5" y2="478.3" stroke="#111" stroke-width="1.2"/>
<text x="472.5" y="481.0" font-size="9" text-anchor="end" fill="#000">0.00</text>
<line x1="511.7" y1="478.3" x2="511.7" y2="482.8" stroke="#111" stroke-width="1.2"/>
<line x1="562.1" y1="478.3" x2="562.1" y2="482.8" stroke="#111" stroke-width="1.2"/>
<text x="511.7" y="493.6" font-size="9.9" text-anchor="middle" fill="#000">Sham</text>
<text x="562.1" y="493.6" font-size="9.9" text-anchor="middle" fill="#000">UUO</text>
<text x="537.2" y="348.1" font-size="9.6" text-anchor="middle" fill="#000">Fibronectin mRNA</text>
<text x="449.5" y="412.2" font-size="9.3" text-anchor="middle" fill="#000" transform="rotate(-90 449.5 412.2)">Ratio (Fibronectin/β-actin)</text>
<circle cx="498.1" cy="456.2" r="2.4" fill="#22737f"/>
<circle cx="507.6" cy="452.1" r="2.4" fill="#22737f"/>
<circle cx="517.2" cy="457.6" r="2.4" fill="#22737f"/>
<circle cx="525.9" cy="459.0" r="2.4" fill="#22737f"/>
<circle cx="511.7" cy="467.1" r="2.4" fill="#22737f"/>
<circle cx="511.7" cy="457.0" r="2.4" fill="#22737f"/>
<circle cx="562.1" cy="390.8" r="2.4" fill="#8e1629"/>
<circle cx="553.1" cy="421.6" r="2.4" fill="#8e1629"/>
<circle cx="562.1" cy="416.2" r="2.4" fill="#8e1629"/>
<circle cx="571.7" cy="422.7" r="2.4" fill="#8e1629"/>
<circle cx="562.1" cy="423.5" r="2.4" fill="#8e1629"/>
<circle cx="562.1" cy="434.4" r="2.4" fill="#8e1629"/>
<line x1="495.2" y1="458.1" x2="528.2" y2="458.1" stroke="#111" stroke-width="1.3"/>
<line x1="503.7" y1="456.2" x2="519.7" y2="456.2" stroke="#111" stroke-width="1.3"/>
<line x1="503.7" y1="460.3" x2="519.7" y2="460.3" stroke="#111" stroke-width="1.3"/>
<line x1="511.7" y1="456.2" x2="511.7" y2="460.3" stroke="#111" stroke-width="1.3"/>
<line x1="545.6" y1="418.6" x2="578.6" y2="418.6" stroke="#111" stroke-width="1.3"/>
<line x1="554.1" y1="412.6" x2="570.1" y2="412.6" stroke="#111" stroke-width="1.3"/>
<line x1="554.1" y1="424.4" x2="570.1" y2="424.4" stroke="#111" stroke-width="1.3"/>
<line x1="562.1" y1="412.6" x2="562.1" y2="424.4" stroke="#111" stroke-width="1.3"/>
<polygon points="555.60,378.00 556.48,379.79 558.45,380.07 557.03,381.46 557.36,383.43 555.60,382.50 553.84,383.43 554.17,381.46 552.75,380.07 554.72,379.79" fill="#111"/>
<polygon points="562.10,378.00 562.98,379.79 564.95,380.07 563.53,381.46 563.86,383.43 562.10,382.50 560.34,383.43 560.67,381.46 559.25,380.07 561.22,379.79" fill="#111"/>
<polygon points="568.60,378.00 569.48,379.79 571.45,380.07 570.03,381.46 570.36,383.43 568.60,382.50 566.84,383.43 567.17,381.46 565.75,380.07 567.72,379.79" fill="#111"/>
<text x="5.5" y="531.6" font-size="13.8" text-anchor="start" fill="#000">E</text>
<text x="180.4" y="521.9" font-size="12.3" text-anchor="middle" fill="#000">Sham</text>
<text x="244.2" y="521.7" font-size="12.3" text-anchor="middle" fill="#000">UUO</text>
<line x1="162" y1="526.3" x2="199" y2="526.3" stroke="#111" stroke-width="1.3"/>
<line x1="226.1" y1="526.4" x2="262.9" y2="526.4" stroke="#111" stroke-width="1.3"/>
<text x="293.8" y="523" font-size="12.3" text-anchor="middle" fill="#000">kDa</text>
<text x="104.2" y="551.3" font-size="12.3" text-anchor="middle" fill="#000">α-SMA</text>
<text x="293.6" y="551.7" font-size="12.3" text-anchor="middle" fill="#000">42</text>
<rect x="148.3" y="531.95" width="124.5" height="25.09999999999991" fill="#e9e9e9"/>
<text x="104.2" y="586.4" font-size="12.3" text-anchor="middle" fill="#000">Collagen-1</text>
<text x="293.6" y="587.2" font-size="12.3" text-anchor="middle" fill="#000">100</text>
<rect x="148.3" y="565.35" width="124.5" height="29.899999999999977" fill="#e9e9e9"/>
<text x="104.2" y="621" font-size="12.3" text-anchor="middle" fill="#000">Fibronectin</text>
<text x="293.6" y="620.5" font-size="12.3" text-anchor="middle" fill="#000">230</text>
<rect x="148.3" y="601.95" width="124.5" height="24.799999999999955" fill="#e9e9e9"/>
<text x="104.2" y="653" font-size="12.3" text-anchor="middle" fill="#000">β-actin</text>
<text x="293.6" y="653.2" font-size="12.3" text-anchor="middle" fill="#000">43</text>
<rect x="148.3" y="634.25" width="124.5" height="32.60000000000002" fill="#e9e9e9"/>
<rect x="148.3" y="531.95" width="124.5" height="25.09999999999991" filter="url(#wbn)"/>
<rect x="148.3" y="565.35" width="124.5" height="29.899999999999977" filter="url(#wbn)"/>
<rect x="148.3" y="601.95" width="124.5" height="24.799999999999955" filter="url(#wbn)"/>
<rect x="148.3" y="634.25" width="124.5" height="32.60000000000002" filter="url(#wbn)"/>
<g filter="url(#bb2)">
<path d="M152.3,544.8 C155.5,542.4 172.6,542.4 175.8,544.8 C172.6,547.2 155.5,547.2 152.3,544.8Z" fill="#505050"/>
<path d="M184.0,545.6 C187.1,543.0 203.8,543.0 206.9,545.6 C203.8,548.2 187.1,548.2 184.0,545.6Z" fill="#4a4a4a"/>
<path d="M216.1,545.2 C219.3,541.4 236.7,541.4 239.9,545.2 C236.7,549.0 219.3,549.0 216.1,545.2Z" fill="#151515"/>
<path d="M247.0,544.4 C250.3,540.9 267.8,540.9 271.1,544.4 C267.8,547.9 250.3,547.9 247.0,544.4Z" fill="#1c1c1c"/>
<path d="M153.5,581.8 C156.5,579.2 172.5,579.2 175.5,581.8 C172.5,584.4 156.5,584.4 153.5,581.8Z" fill="#3e3e3e"/>
<path d="M184.8,583.3 C187.8,580.7 203.9,580.7 206.9,583.3 C203.9,585.9 187.8,585.9 184.8,583.3Z" fill="#4a4a4a"/>
<path d="M214.2,582.5 C217.5,578.4 234.9,578.4 238.2,582.5 C234.9,586.6 217.5,586.6 214.2,582.5Z" fill="#141414"/>
<path d="M246.1,582.2 C249.3,578.4 266.3,578.4 269.5,582.2 C266.3,586.0 249.3,586.0 246.1,582.2Z" fill="#1a1a1a"/>
<ellipse cx="166" cy="614.5" rx="9" ry="6" fill="#b0b0b0" opacity="0.8"/>
<ellipse cx="196" cy="614.5" rx="9" ry="6" fill="#a8a8a8" opacity="0.8"/>
<path d="M156.5,612.0 C159.2,608.9 172.8,608.9 175.5,612.0 C172.8,615.1 159.2,615.1 156.5,612.0Z" fill="#808080" opacity="0.9"/>
<path d="M156.5,617.3 C159.2,614.2 172.8,614.2 175.5,617.3 C172.8,620.4 159.2,620.4 156.5,617.3Z" fill="#777" opacity="0.9"/>
<path d="M187.0,612.0 C189.6,609.1 202.9,609.1 205.5,612.0 C202.9,614.9 189.6,614.9 187.0,612.0Z" fill="#888" opacity="0.9"/>
<path d="M187.0,617.3 C189.6,614.0 202.9,614.0 205.5,617.3 C202.9,620.6 189.6,620.6 187.0,617.3Z" fill="#5a5a5a" opacity="0.9"/>
<rect x="216" y="609" width="21.5" height="13.8" rx="6" fill="#0e0e0e"/>
<rect x="247.8" y="609" width="21" height="13.8" rx="6" fill="#0e0e0e"/>
<path d="M152.5,651.5 C155.6,647.1 172.4,647.1 175.5,651.5 C172.4,655.9 155.6,655.9 152.5,651.5Z" fill="#161616"/>
<path d="M184.0,651.8 C187.1,647.4 203.9,647.4 207.0,651.8 C203.9,656.2 187.1,656.2 184.0,651.8Z" fill="#1a1a1a"/>
<path d="M213.5,651.6 C216.9,647.1 235.1,647.1 238.5,651.6 C235.1,656.1 216.9,656.1 213.5,651.6Z" fill="#161616"/>
<path d="M245.5,651.4 C248.8,647.0 266.2,647.0 269.5,651.4 C266.2,655.8 248.8,655.8 245.5,651.4Z" fill="#161616"/>
</g>
<rect x="148.3" y="531.95" width="124.5" height="25.09999999999991" fill="none" stroke="#1a1a1a" stroke-width="1.5"/>
<rect x="148.3" y="565.35" width="124.5" height="29.899999999999977" fill="none" stroke="#1a1a1a" stroke-width="1.5"/>
<rect x="148.3" y="601.95" width="124.5" height="24.799999999999955" fill="none" stroke="#1a1a1a" stroke-width="1.5"/>
<rect x="148.3" y="634.25" width="124.5" height="32.60000000000002" fill="none" stroke="#1a1a1a" stroke-width="1.5"/>
<line x1="364.4" y1="525.1" x2="364.4" y2="653.4" stroke="#111" stroke-width="1.3"/>
<line x1="363.79999999999995" y1="652.8" x2="556.4" y2="652.8" stroke="#111" stroke-width="1.4"/>
<line x1="359.4" y1="652.8" x2="364.4" y2="652.8" stroke="#111" stroke-width="1.2"/>
<text x="358.09999999999997" y="656.3" font-size="10.0" text-anchor="end" fill="#000">0.0</text>
<line x1="359.4" y1="627.3499999999999" x2="364.4" y2="627.3499999999999" stroke="#111" stroke-width="1.2"/>
<text x="358.09999999999997" y="630.8499999999999" font-size="10.0" text-anchor="end" fill="#000">0.5</text>
<line x1="359.4" y1="601.9" x2="364.4" y2="601.9" stroke="#111" stroke-width="1.2"/>
<text x="358.09999999999997" y="605.4" font-size="10.0" text-anchor="end" fill="#000">1.0</text>
<line x1="359.4" y1="576.4499999999999" x2="364.4" y2="576.4499999999999" stroke="#111" stroke-width="1.2"/>
<text x="358.09999999999997" y="579.9499999999999" font-size="10.0" text-anchor="end" fill="#000">1.5</text>
<line x1="359.4" y1="551.0" x2="364.4" y2="551.0" stroke="#111" stroke-width="1.2"/>
<text x="358.09999999999997" y="554.5" font-size="10.0" text-anchor="end" fill="#000">2.0</text>
<line x1="359.4" y1="525.55" x2="364.4" y2="525.55" stroke="#111" stroke-width="1.2"/>
<text x="358.09999999999997" y="529.05" font-size="10.0" text-anchor="end" fill="#000">2.5</text>
<text x="338.2" y="589.2" font-size="10.2" text-anchor="middle" fill="#000" transform="rotate(-90 338.2 589.2)">Relative protein level</text>
<rect x="382.7" y="601.9" width="16.900000000000034" height="50.9" fill="#8eabd6" stroke="#111" stroke-width="1.3"/>
<rect x="399.6" y="582.558" width="16.799999999999955" height="70.24199999999999" fill="#d9abab" stroke="#111" stroke-width="1.3"/>
<line x1="391.15" y1="597.319" x2="391.15" y2="606.481" stroke="#111" stroke-width="1.3"/>
<line x1="386.84999999999997" y1="597.319" x2="395.45" y2="597.319" stroke="#111" stroke-width="1.3"/>
<line x1="386.84999999999997" y1="606.481" x2="395.45" y2="606.481" stroke="#111" stroke-width="1.3"/>
<line x1="408.0" y1="579.7584999999999" x2="408.0" y2="585.3575" stroke="#111" stroke-width="1.3"/>
<line x1="403.7" y1="579.7584999999999" x2="412.3" y2="579.7584999999999" stroke="#111" stroke-width="1.3"/>
<line x1="403.7" y1="585.3575" x2="412.3" y2="585.3575" stroke="#111" stroke-width="1.3"/>
<line x1="399.6" y1="652.8" x2="399.6" y2="657.4" stroke="#111" stroke-width="1.2"/>
<text x="399.6" y="668.3" font-size="10.3" text-anchor="middle" fill="#000">a-SMA</text>
<rect x="443.8" y="602.409" width="16.599999999999966" height="50.391" fill="#8eabd6" stroke="#111" stroke-width="1.3"/>
<rect x="460.4" y="582.558" width="16.5" height="70.24199999999999" fill="#d9abab" stroke="#111" stroke-width="1.3"/>
<line x1="452.1" y1="598.0825" x2="452.1" y2="606.7355" stroke="#111" stroke-width="1.3"/>
<line x1="447.8" y1="598.0825" x2="456.40000000000003" y2="598.0825" stroke="#111" stroke-width="1.3"/>
<line x1="447.8" y1="606.7355" x2="456.40000000000003" y2="606.7355" stroke="#111" stroke-width="1.3"/>
<line x1="468.65" y1="581.2855" x2="468.65" y2="583.8304999999999" stroke="#111" stroke-width="1.3"/>
<line x1="464.34999999999997" y1="581.2855" x2="472.95" y2="581.2855" stroke="#111" stroke-width="1.3"/>
<line x1="464.34999999999997" y1="583.8304999999999" x2="472.95" y2="583.8304999999999" stroke="#111" stroke-width="1.3"/>
<line x1="460.4" y1="652.8" x2="460.4" y2="657.4" stroke="#111" stroke-width="1.2"/>
<text x="460.4" y="668.3" font-size="10.3" text-anchor="middle" fill="#000">Collagen-1</text>
<rect x="504.6" y="602.409" width="16.600000000000023" height="50.391" fill="#8eabd6" stroke="#111" stroke-width="1.3"/>
<rect x="521.2" y="572.3779999999999" width="16.899999999999977" height="80.422" fill="#d9abab" stroke="#111" stroke-width="1.3"/>
<line x1="512.9000000000001" y1="595.7919999999999" x2="512.9000000000001" y2="609.026" stroke="#111" stroke-width="1.3"/>
<line x1="508.6000000000001" y1="595.7919999999999" x2="517.2" y2="595.7919999999999" stroke="#111" stroke-width="1.3"/>
<line x1="508.6000000000001" y1="609.026" x2="517.2" y2="609.026" stroke="#111" stroke-width="1.3"/>
<line x1="529.6500000000001" y1="569.0695" x2="529.6500000000001" y2="575.6864999999999" stroke="#111" stroke-width="1.3"/>
<line x1="525.3500000000001" y1="569.0695" x2="533.95" y2="569.0695" stroke="#111" stroke-width="1.3"/>
<line x1="525.3500000000001" y1="575.6864999999999" x2="533.95" y2="575.6864999999999" stroke="#111" stroke-width="1.3"/>
<line x1="521.2" y1="652.8" x2="521.2" y2="657.4" stroke="#111" stroke-width="1.2"/>
<text x="521.2" y="668.3" font-size="10.3" text-anchor="middle" fill="#000">Fibronectin</text>
<polygon points="405.00,569.10 405.91,570.95 407.95,571.24 406.47,572.68 406.82,574.71 405.00,573.75 403.18,574.71 403.53,572.68 402.05,571.24 404.09,570.95" fill="#111"/>
<polygon points="412.00,569.10 412.91,570.95 414.95,571.24 413.47,572.68 413.82,574.71 412.00,573.75 410.18,574.71 410.53,572.68 409.05,571.24 411.09,570.95" fill="#111"/>
<polygon points="466.50,569.90 467.41,571.75 469.45,572.04 467.97,573.48 468.32,575.51 466.50,574.55 464.68,575.51 465.03,573.48 463.55,572.04 465.59,571.75" fill="#111"/>
<polygon points="473.50,569.90 474.41,571.75 476.45,572.04 474.97,573.48 475.32,575.51 473.50,574.55 471.68,575.51 472.03,573.48 470.55,572.04 472.59,571.75" fill="#111"/>
<polygon points="524.70,556.90 525.61,558.75 527.65,559.04 526.17,560.48 526.52,562.51 524.70,561.55 522.88,562.51 523.23,560.48 521.75,559.04 523.79,558.75" fill="#111"/>
<polygon points="531.70,556.90 532.61,558.75 534.65,559.04 533.17,560.48 533.52,562.51 531.70,561.55 529.88,562.51 530.23,560.48 528.75,559.04 530.79,558.75" fill="#111"/>
<polygon points="538.70,556.90 539.61,558.75 541.65,559.04 540.17,560.48 540.52,562.51 538.70,561.55 536.88,562.51 537.23,560.48 535.75,559.04 537.79,558.75" fill="#111"/>
<rect x="377.4" y="526.7" width="11.9" height="5.7" fill="#8eabd6" stroke="#111" stroke-width="1.2"/>
<rect x="437.6" y="526.7" width="12.4" height="5.7" fill="#d9abab" stroke="#111" stroke-width="1.2"/>
<text x="398.2" y="533.2" font-size="10.3" text-anchor="start" fill="#000">Sham</text>
<text x="458.1" y="533" font-size="10.3" text-anchor="start" fill="#000">UUO</text>
<text x="5.5" y="693" font-size="14" text-anchor="start" fill="#000">F</text>
<text x="120.1" y="712" font-size="15.3" text-anchor="middle" fill="#000">Sham</text>
<text x="257.1" y="712" font-size="15.3" text-anchor="middle" fill="#000">UUO</text>
<text x="43.6" y="777.1" font-size="15.1" text-anchor="middle" fill="#000" transform="rotate(-90 43.6 777.1)">F4/80</text>
<g clip-path="url(#c5)">
<rect x="51" y="719.7" width="135.7" height="109.5" fill="#e9e8e5"/>
<rect x="51" y="719.7" width="135.7" height="109.5" filter="url(#fs1)"/>
<rect x="51" y="719.7" width="135.7" height="109.5" filter="url(#fsv)"/>
<rect x="51" y="719.7" width="135.7" height="109.5" filter="url(#fsb)"/>
<circle cx="62.3" cy="738.6" r="1.1419057752137158" fill="#7a86b0" opacity="0.55"/>
<circle cx="72.9" cy="823.6" r="1.2221640109353153" fill="#7a86b0" opacity="0.55"/>
<circle cx="151.7" cy="770.7" r="1.2135031597895738" fill="#7a86b0" opacity="0.55"/>
<circle cx="84.1" cy="785.8" r="0.9852853365248226" fill="#7a86b0" opacity="0.55"/>
<circle cx="117.6" cy="825.3" r="0.9083195037636389" fill="#7a86b0" opacity="0.55"/>
<circle cx="153.4" cy="803.6" r="0.8437140196587964" fill="#7a86b0" opacity="0.55"/>
<circle cx="185.7" cy="768.8" r="1.0717325264354545" fill="#7a86b0" opacity="0.55"/>
<circle cx="92.0" cy="780.7" r="1.280040568202448" fill="#7a86b0" opacity="0.55"/>
<circle cx="98.4" cy="800.0" r="1.1921260224761099" fill="#7a86b0" opacity="0.55"/>
<circle cx="168.9" cy="795.4" r="1.0159781052671955" fill="#7a86b0" opacity="0.55"/>
<circle cx="97.0" cy="761.8" r="0.9868813698701375" fill="#7a86b0" opacity="0.55"/>
<circle cx="171.2" cy="810.4" r="0.9071906272590868" fill="#7a86b0" opacity="0.55"/>
<circle cx="87.0" cy="724.5" r="1.2657170582227444" fill="#7a86b0" opacity="0.55"/>
<circle cx="59.0" cy="762.5" r="0.891832922910105" fill="#7a86b0" opacity="0.55"/>
<circle cx="77.7" cy="822.8" r="1.0179337867178586" fill="#7a86b0" opacity="0.55"/>
<circle cx="137.0" cy="810.6" r="1.0617612586260532" fill="#7a86b0" opacity="0.55"/>
<circle cx="162.2" cy="804.1" r="1.1024399834561156" fill="#7a86b0" opacity="0.55"/>
<circle cx="127.5" cy="816.8" r="1.1378495870709882" fill="#7a86b0" opacity="0.55"/>
<circle cx="97.4" cy="818.2" r="1.2106110855774652" fill="#7a86b0" opacity="0.55"/>
<circle cx="180.1" cy="792.7" r="1.022260522798725" fill="#7a86b0" opacity="0.55"/>
<circle cx="99.0" cy="788.0" r="0.8898233307234871" fill="#7a86b0" opacity="0.55"/>
<circle cx="150.1" cy="797.2" r="1.2394323203927473" fill="#7a86b0" opacity="0.55"/>
<circle cx="80.6" cy="783.3" r="1.075291469498843" fill="#7a86b0" opacity="0.55"/>
<circle cx="132.2" cy="764.5" r="0.8045910694653602" fill="#7a86b0" opacity="0.55"/>
<circle cx="176.7" cy="818.7" r="0.8796052218146142" fill="#7a86b0" opacity="0.55"/>
<circle cx="174.9" cy="785.0" r="0.8040984783492549" fill="#7a86b0" opacity="0.55"/>
<circle cx="137.3" cy="752.6" r="0.9865005544328911" fill="#7a86b0" opacity="0.55"/>
<circle cx="65.4" cy="810.9" r="1.124398967494511" fill="#7a86b0" opacity="0.55"/>
<circle cx="82.5" cy="782.0" r="1.0112225129482102" fill="#7a86b0" opacity="0.55"/>
<circle cx="184.4" cy="742.6" r="1.142074723114509" fill="#7a86b0" opacity="0.55"/>
<circle cx="159.3" cy="817.0" r="0.9339591249608027" fill="#7a86b0" opacity="0.55"/>
<circle cx="168.6" cy="739.2" r="0.8750041981068606" fill="#7a86b0" opacity="0.55"/>
<circle cx="134.8" cy="818.4" r="1.0062214457323302" fill="#7a86b0" opacity="0.55"/>
<circle cx="75.0" cy="730.5" r="1.005965676589422" fill="#7a86b0" opacity="0.55"/>
<circle cx="168.9" cy="788.6" r="1.0416553831500508" fill="#7a86b0" opacity="0.55"/>
<circle cx="122.3" cy="742.5" r="0.9161156059483637" fill="#7a86b0" opacity="0.55"/>
<circle cx="86.9" cy="800.0" r="1.1269145589354639" fill="#7a86b0" opacity="0.55"/>
<circle cx="58.0" cy="781.6" r="1.2794308259870089" fill="#7a86b0" opacity="0.55"/>
<circle cx="60.9" cy="737.3" r="1.2843445390473003" fill="#7a86b0" opacity="0.55"/>
<circle cx="121.6" cy="818.4" r="1.217278134534332" fill="#7a86b0" opacity="0.55"/>
<circle cx="114.7" cy="828.2" r="0.9308465424325327" fill="#7a86b0" opacity="0.55"/>
<circle cx="92.8" cy="744.4" r="1.1772121784199874" fill="#7a86b0" opacity="0.55"/>
<circle cx="65.0" cy="768.3" r="1.186926428054755" fill="#7a86b0" opacity="0.55"/>
<circle cx="148.2" cy="754.1" r="0.8781188785527583" fill="#7a86b0" opacity="0.55"/>
<circle cx="162.7" cy="812.3" r="1.1201181325423195" fill="#7a86b0" opacity="0.55"/>
<circle cx="131.8" cy="731.0" r="0.9704229470616674" fill="#7a86b0" opacity="0.55"/>
<circle cx="89.0" cy="774.6" r="0.9399428744469163" fill="#7a86b0" opacity="0.55"/>
<circle cx="133.9" cy="770.8" r="1.2855269457561096" fill="#7a86b0" opacity="0.55"/>
<circle cx="86.2" cy="723.9" r="0.8704082611591875" fill="#7a86b0" opacity="0.55"/>
<circle cx="77.0" cy="794.8" r="1.0764970653896824" fill="#7a86b0" opacity="0.55"/>
<circle cx="129.0" cy="800.7" r="1.1511699292706545" fill="#7a86b0" opacity="0.55"/>
<circle cx="77.6" cy="740.2" r="1.2381921370118578" fill="#7a86b0" opacity="0.55"/>
<circle cx="149.8" cy="763.2" r="1.1511301659549273" fill="#7a86b0" opacity="0.55"/>
<circle cx="146.1" cy="728.8" r="1.022786699706689" fill="#7a86b0" opacity="0.55"/>
<circle cx="155.7" cy="810.7" r="1.1412456456984317" fill="#7a86b0" opacity="0.55"/>
<circle cx="96.0" cy="814.8" r="1.0764467023754503" fill="#7a86b0" opacity="0.55"/>
<circle cx="186.2" cy="824.4" r="1.2488765395122012" fill="#7a86b0" opacity="0.55"/>
<circle cx="77.7" cy="823.5" r="0.9325011214587386" fill="#7a86b0" opacity="0.55"/>
<circle cx="79.4" cy="777.3" r="1.1369707457266514" fill="#7a86b0" opacity="0.55"/>
<circle cx="88.1" cy="826.3" r="0.8364419653370497" fill="#7a86b0" opacity="0.55"/>
<circle cx="163.4" cy="798.7" r="1.1885916982363391" fill="#7a86b0" opacity="0.55"/>
<circle cx="112.6" cy="818.3" r="0.9605277009002574" fill="#7a86b0" opacity="0.55"/>
<circle cx="116.8" cy="809.7" r="1.2344006138923465" fill="#7a86b0" opacity="0.55"/>
<circle cx="58.9" cy="786.0" r="1.24769095336057" fill="#7a86b0" opacity="0.55"/>
<circle cx="94.7" cy="735.8" r="1.0989047900969529" fill="#7a86b0" opacity="0.55"/>
<circle cx="163.5" cy="743.3" r="1.1878207771005922" fill="#7a86b0" opacity="0.55"/>
<circle cx="72.0" cy="827.4" r="0.8510861518185171" fill="#7a86b0" opacity="0.55"/>
<circle cx="69.5" cy="810.6" r="0.9986409651818918" fill="#7a86b0" opacity="0.55"/>
<circle cx="60.6" cy="749.0" r="1.2389218590686917" fill="#7a86b0" opacity="0.55"/>
<circle cx="166.6" cy="755.3" r="0.8164719353372012" fill="#7a86b0" opacity="0.55"/>
<circle cx="144.9" cy="733.4" r="1.1576332929122772" fill="#7a86b0" opacity="0.55"/>
<circle cx="120.7" cy="818.0" r="0.8374451571392205" fill="#7a86b0" opacity="0.55"/>
<circle cx="172.2" cy="727.3" r="1.1043543647190683" fill="#7a86b0" opacity="0.55"/>
<circle cx="99.5" cy="780.3" r="0.9200283822569291" fill="#7a86b0" opacity="0.55"/>
<circle cx="179.4" cy="776.3" r="1.1277509857306742" fill="#7a86b0" opacity="0.55"/>
<circle cx="115.5" cy="804.3" r="1.2325017546432881" fill="#7a86b0" opacity="0.55"/>
<circle cx="62.4" cy="825.2" r="0.9380668550874262" fill="#7a86b0" opacity="0.55"/>
<circle cx="135.0" cy="740.5" r="0.9706459171137165" fill="#7a86b0" opacity="0.55"/>
<circle cx="171.0" cy="815.7" r="1.2554809856425388" fill="#7a86b0" opacity="0.55"/>
<circle cx="136.5" cy="769.9" r="1.0320202635793339" fill="#7a86b0" opacity="0.55"/>
<circle cx="99.2" cy="793.8" r="1.0044493023948642" fill="#7a86b0" opacity="0.55"/>
<circle cx="69.7" cy="791.6" r="0.9795273307079784" fill="#7a86b0" opacity="0.55"/>
<circle cx="134.6" cy="798.8" r="1.2853299351860898" fill="#7a86b0" opacity="0.55"/>
<circle cx="66.0" cy="780.5" r="1.2428001853399275" fill="#7a86b0" opacity="0.55"/>
<circle cx="56.0" cy="779.0" r="0.9294329250220753" fill="#7a86b0" opacity="0.55"/>
<circle cx="132.8" cy="803.9" r="1.0868772920761014" fill="#7a86b0" opacity="0.55"/>
<circle cx="86.9" cy="765.7" r="0.9100707218243451" fill="#7a86b0" opacity="0.55"/>
<circle cx="165.6" cy="762.2" r="0.9147274520155037" fill="#7a86b0" opacity="0.55"/>
<circle cx="175.7" cy="781.6" r="1.0737131351413018" fill="#7a86b0" opacity="0.55"/>
<circle cx="182.9" cy="787.8" r="1.202482173232541" fill="#7a86b0" opacity="0.55"/>
<circle cx="96.3" cy="775.8" r="0.9422944637125346" fill="#7a86b0" opacity="0.55"/>
<circle cx="154.1" cy="749.1" r="0.9482055654750623" fill="#7a86b0" opacity="0.55"/>
<circle cx="74.9" cy="818.8" r="0.9906200771282496" fill="#7a86b0" opacity="0.55"/>
<circle cx="169.4" cy="777.1" r="0.8913079376578179" fill="#7a86b0" opacity="0.55"/>
<circle cx="145.9" cy="812.7" r="1.0250482061062522" fill="#7a86b0" opacity="0.55"/>
<circle cx="180.3" cy="793.1" r="1.043513373964437" fill="#7a86b0" opacity="0.55"/>
<circle cx="163.0" cy="795.3" r="1.2649790623174764" fill="#7a86b0" opacity="0.55"/>
<circle cx="78.9" cy="822.6" r="1.2124572887228304" fill="#7a86b0" opacity="0.55"/>
<circle cx="103.8" cy="768.9" r="1.0613999516342658" fill="#7a86b0" opacity="0.55"/>
<circle cx="64.5" cy="770.9" r="1.2833408230578445" fill="#7a86b0" opacity="0.55"/>
<circle cx="152.5" cy="793.0" r="0.8758559430799204" fill="#7a86b0" opacity="0.55"/>
<circle cx="164.7" cy="746.7" r="1.2675723534130583" fill="#7a86b0" opacity="0.55"/>
<circle cx="112.6" cy="742.0" r="1.0777361930515148" fill="#7a86b0" opacity="0.55"/>
<circle cx="56.9" cy="812.6" r="1.1230556885491418" fill="#7a86b0" opacity="0.55"/>
<circle cx="124.6" cy="797.7" r="1.192990665446085" fill="#7a86b0" opacity="0.55"/>
<circle cx="51.4" cy="778.7" r="1.2078027707639856" fill="#7a86b0" opacity="0.55"/>
<circle cx="166.3" cy="777.2" r="1.2892970680405134" fill="#7a86b0" opacity="0.55"/>
<circle cx="104.0" cy="800.1" r="1.2006367267857518" fill="#7a86b0" opacity="0.55"/>
<circle cx="104.6" cy="823.3" r="1.2066158429427367" fill="#7a86b0" opacity="0.55"/>
<circle cx="173.4" cy="795.3" r="0.8334898253536476" fill="#7a86b0" opacity="0.55"/>
<circle cx="180.1" cy="804.6" r="1.1726692995230925" fill="#7a86b0" opacity="0.55"/>
<circle cx="108.1" cy="726.6" r="1.25117386330744" fill="#7a86b0" opacity="0.55"/>
<circle cx="179.6" cy="768.5" r="1.0350102871343894" fill="#7a86b0" opacity="0.55"/>
<circle cx="124.3" cy="732.2" r="0.8284708010539266" fill="#7a86b0" opacity="0.55"/>
<circle cx="149.0" cy="751.1" r="0.8171797948589159" fill="#7a86b0" opacity="0.55"/>
<circle cx="141.8" cy="736.8" r="1.270933005852878" fill="#7a86b0" opacity="0.55"/>
<circle cx="181.3" cy="732.6" r="1.1031938012527167" fill="#7a86b0" opacity="0.55"/>
<circle cx="156.3" cy="816.1" r="0.9396346571751444" fill="#7a86b0" opacity="0.55"/>
<circle cx="135.8" cy="789.6" r="0.8123922326688697" fill="#7a86b0" opacity="0.55"/>
<circle cx="104.3" cy="722.0" r="1.2818837124830387" fill="#7a86b0" opacity="0.55"/>
<circle cx="104.5" cy="724.6" r="0.8239034356731293" fill="#7a86b0" opacity="0.55"/>
<circle cx="88.0" cy="733.0" r="1.0920201059596073" fill="#7a86b0" opacity="0.55"/>
<circle cx="109.3" cy="737.0" r="0.8346816484419366" fill="#7a86b0" opacity="0.55"/>
<circle cx="78.3" cy="794.5" r="0.8067076051095384" fill="#7a86b0" opacity="0.55"/>
<circle cx="103.8" cy="750.1" r="0.8342035357696586" fill="#7a86b0" opacity="0.55"/>
<circle cx="93.9" cy="799.8" r="0.9945047910639764" fill="#7a86b0" opacity="0.55"/>
<circle cx="183.9" cy="736.0" r="1.2809050034332874" fill="#7a86b0" opacity="0.55"/>
<circle cx="82.7" cy="725.3" r="0.9457443657798925" fill="#7a86b0" opacity="0.55"/>
<circle cx="115.7" cy="747.1" r="0.8459562094236311" fill="#7a86b0" opacity="0.55"/>
<circle cx="147.6" cy="771.8" r="1.1931301209464997" fill="#7a86b0" opacity="0.55"/>
<circle cx="131.2" cy="726.2" r="0.8383936276837906" fill="#7a86b0" opacity="0.55"/>
<circle cx="98.6" cy="802.4" r="0.9702807820530672" fill="#7a86b0" opacity="0.55"/>
<circle cx="169.8" cy="817.7" r="1.072557025485755" fill="#7a86b0" opacity="0.55"/>
<circle cx="139.8" cy="754.2" r="1.2965186631958336" fill="#7a86b0" opacity="0.55"/>
<circle cx="175.0" cy="826.2" r="1.132350816993374" fill="#7a86b0" opacity="0.55"/>
<circle cx="110.4" cy="729.1" r="0.9406755263084257" fill="#7a86b0" opacity="0.55"/>
<circle cx="139.0" cy="811.8" r="1.2842669148798325" fill="#7a86b0" opacity="0.55"/>
<circle cx="86.2" cy="781.2" r="1.0908955024299334" fill="#7a86b0" opacity="0.55"/>
<circle cx="82.1" cy="766.5" r="0.9844386412809866" fill="#7a86b0" opacity="0.55"/>
<circle cx="141.6" cy="792.7" r="0.9468033357118302" fill="#7a86b0" opacity="0.55"/>
<circle cx="171.3" cy="754.2" r="0.9533739055064048" fill="#7a86b0" opacity="0.55"/>
<circle cx="165.4" cy="741.5" r="0.8268408015771875" fill="#7a86b0" opacity="0.55"/>
<circle cx="55.0" cy="787.1" r="1.141941474863992" fill="#7a86b0" opacity="0.55"/>
<circle cx="97.7" cy="826.1" r="0.9209815393872738" fill="#7a86b0" opacity="0.55"/>
<circle cx="158.9" cy="743.5" r="1.143789918363674" fill="#7a86b0" opacity="0.55"/>
<circle cx="93.3" cy="780.7" r="1.2054892124731267" fill="#7a86b0" opacity="0.55"/>
<circle cx="147.4" cy="794.8" r="1.1161500267546378" fill="#7a86b0" opacity="0.55"/>
<circle cx="103.1" cy="822.6" r="1.1962747702593526" fill="#7a86b0" opacity="0.55"/>
<circle cx="83.1" cy="767.2" r="1.0853004239777566" fill="#7a86b0" opacity="0.55"/>
<circle cx="136.5" cy="756.5" r="0.9132321339515822" fill="#7a86b0" opacity="0.55"/>
<circle cx="120.2" cy="749.3" r="0.8672728607272215" fill="#7a86b0" opacity="0.55"/>
<circle cx="118.1" cy="731.0" r="1.104376058833573" fill="#7a86b0" opacity="0.55"/>
<circle cx="90.8" cy="749.8" r="1.1248647972085715" fill="#7a86b0" opacity="0.55"/>
<circle cx="56.0" cy="828.6" r="1.1169215239776042" fill="#7a86b0" opacity="0.55"/>
<circle cx="128.9" cy="817.4" r="1.221124433362298" fill="#7a86b0" opacity="0.55"/>
<circle cx="115.3" cy="810.3" r="0.8130393418653641" fill="#7a86b0" opacity="0.55"/>
<circle cx="166.0" cy="826.4" r="1.0111828390616635" fill="#7a86b0" opacity="0.55"/>
<circle cx="124.9" cy="784.9" r="1.0720825044536046" fill="#7a86b0" opacity="0.55"/>
<circle cx="68.8" cy="794.6" r="1.0710492143183705" fill="#7a86b0" opacity="0.55"/>
<circle cx="76.2" cy="800.3" r="1.226469882848713" fill="#7a86b0" opacity="0.55"/>
<circle cx="111.3" cy="727.5" r="1.0116389338435259" fill="#7a86b0" opacity="0.55"/>
<circle cx="110.8" cy="799.8" r="0.9558103550361203" fill="#7a86b0" opacity="0.55"/>
<circle cx="75.6" cy="732.5" r="1.0849911489908555" fill="#7a86b0" opacity="0.55"/>
<circle cx="79.3" cy="760.1" r="1.08712008708787" fill="#7a86b0" opacity="0.55"/>
<circle cx="125.4" cy="737.1" r="1.0213659142760863" fill="#7a86b0" opacity="0.55"/>
<circle cx="101.9" cy="789.1" r="1.1204687899435568" fill="#7a86b0" opacity="0.55"/>
<circle cx="156.2" cy="812.3" r="0.8637041443318049" fill="#7a86b0" opacity="0.55"/>
<circle cx="64.8" cy="810.9" r="0.9940141114954055" fill="#7a86b0" opacity="0.55"/>
<circle cx="74.3" cy="789.7" r="1.0046450886223028" fill="#7a86b0" opacity="0.55"/>
<circle cx="170.5" cy="807.8" r="0.8340576533771532" fill="#7a86b0" opacity="0.55"/>
<circle cx="52.8" cy="783.8" r="1.220416018831748" fill="#7a86b0" opacity="0.55"/>
<circle cx="174.5" cy="791.1" r="0.8147351820972558" fill="#7a86b0" opacity="0.55"/>
<circle cx="134.5" cy="725.1" r="0.9178412763094073" fill="#7a86b0" opacity="0.55"/>
<circle cx="142.3" cy="769.4" r="1.0778274857896017" fill="#7a86b0" opacity="0.55"/>
<circle cx="110.0" cy="733.8" r="1.1614718188136495" fill="#7a86b0" opacity="0.55"/>
<circle cx="131.0" cy="793.7" r="0.847721613097167" fill="#7a86b0" opacity="0.55"/>
<circle cx="86.6" cy="721.5" r="0.8222779059100933" fill="#7a86b0" opacity="0.55"/>
<circle cx="124.9" cy="811.4" r="0.9442374300479484" fill="#7a86b0" opacity="0.55"/>
<circle cx="133.8" cy="798.9" r="1.2905168054016545" fill="#7a86b0" opacity="0.55"/>
<circle cx="173.7" cy="785.2" r="0.97348920309036" fill="#7a86b0" opacity="0.55"/>
<circle cx="153.8" cy="757.2" r="0.9515547975204641" fill="#7a86b0" opacity="0.55"/>
<circle cx="182.3" cy="775.5" r="0.902450234851026" fill="#7a86b0" opacity="0.55"/>
<circle cx="153.2" cy="771.2" r="0.854146452033115" fill="#7a86b0" opacity="0.55"/>
<circle cx="145.4" cy="764.7" r="0.8752876605749461" fill="#7a86b0" opacity="0.55"/>
<circle cx="81.0" cy="763.3" r="1.1997950309047212" fill="#7a86b0" opacity="0.55"/>
<circle cx="101.3" cy="755.5" r="1.2664676538424098" fill="#7a86b0" opacity="0.55"/>
<circle cx="184.1" cy="732.6" r="1.2655422464981676" fill="#7a86b0" opacity="0.55"/>
<circle cx="121.3" cy="729.7" r="1.218522892691071" fill="#7a86b0" opacity="0.55"/>
<circle cx="135.4" cy="771.0" r="0.8513594181535582" fill="#7a86b0" opacity="0.55"/>
<circle cx="162.4" cy="734.2" r="1.0592862929205558" fill="#7a86b0" opacity="0.55"/>
<circle cx="96.1" cy="816.4" r="1.2920304140641614" fill="#7a86b0" opacity="0.55"/>
<circle cx="153.0" cy="723.8" r="1.2446564110643814" fill="#7a86b0" opacity="0.55"/>
<circle cx="60.1" cy="817.2" r="1.1148424651281652" fill="#7a86b0" opacity="0.55"/>
<circle cx="153.0" cy="720.5" r="0.9166259792019669" fill="#7a86b0" opacity="0.55"/>
<circle cx="132.2" cy="753.3" r="1.17949874858621" fill="#7a86b0" opacity="0.55"/>
<circle cx="110.3" cy="750.9" r="1.0078961277317111" fill="#7a86b0" opacity="0.55"/>
<circle cx="178.8" cy="759.9" r="0.8274295709593024" fill="#7a86b0" opacity="0.55"/>
<circle cx="131.7" cy="794.7" r="0.9104851235097902" fill="#7a86b0" opacity="0.55"/>
<circle cx="140.1" cy="776.8" r="1.1904315229714548" fill="#7a86b0" opacity="0.55"/>
<circle cx="141.3" cy="730.5" r="0.8831850951930976" fill="#7a86b0" opacity="0.55"/>
<circle cx="121.5" cy="785.8" r="1.1341215102816187" fill="#7a86b0" opacity="0.55"/>
<circle cx="179.2" cy="794.5" r="1.1935163175798127" fill="#7a86b0" opacity="0.55"/>
<circle cx="69.1" cy="815.5" r="0.8206101990290464" fill="#7a86b0" opacity="0.55"/>
<circle cx="96.0" cy="825.0" r="1.1908285348216516" fill="#7a86b0" opacity="0.55"/>
<circle cx="181.2" cy="754.4" r="0.9045638753756209" fill="#7a86b0" opacity="0.55"/>
<circle cx="179.5" cy="808.0" r="1.0730095157108923" fill="#7a86b0" opacity="0.55"/>
<circle cx="167.9" cy="813.3" r="0.8008655915409102" fill="#7a86b0" opacity="0.55"/>
<circle cx="182.6" cy="728.8" r="1.0894927104388485" fill="#7a86b0" opacity="0.55"/>
<circle cx="173.9" cy="736.5" r="0.9671660775949631" fill="#7a86b0" opacity="0.55"/>
<circle cx="162.9" cy="776.2" r="1.0764118699131175" fill="#7a86b0" opacity="0.55"/>
<circle cx="133.8" cy="791.8" r="0.8014231126670377" fill="#7a86b0" opacity="0.55"/>
<circle cx="161.8" cy="739.0" r="1.217839836780846" fill="#7a86b0" opacity="0.55"/>
<circle cx="52.4" cy="739.2" r="0.8208187701894746" fill="#7a86b0" opacity="0.55"/>
<circle cx="96.0" cy="775.1" r="0.9959693659575515" fill="#7a86b0" opacity="0.55"/>
<circle cx="113.7" cy="825.1" r="1.0501344472875587" fill="#7a86b0" opacity="0.55"/>
<circle cx="78.9" cy="761.7" r="0.8188966877341379" fill="#7a86b0" opacity="0.55"/>
<circle cx="165.8" cy="764.7" r="1.1990194480148966" fill="#7a86b0" opacity="0.55"/>
<circle cx="96.3" cy="817.7" r="1.1897613915899123" fill="#7a86b0" opacity="0.55"/>
<circle cx="64.9" cy="761.3" r="1.2676479995396495" fill="#7a86b0" opacity="0.55"/>
<circle cx="77.8" cy="784.4" r="1.218904547868185" fill="#7a86b0" opacity="0.55"/>
<circle cx="164.5" cy="727.6" r="1.0676773064975755" fill="#7a86b0" opacity="0.55"/>
<circle cx="138.5" cy="765.6" r="0.9477344161895155" fill="#7a86b0" opacity="0.55"/>
<circle cx="171.9" cy="728.4" r="1.2632550930494113" fill="#7a86b0" opacity="0.55"/>
<circle cx="135.6" cy="776.1" r="0.880719032989814" fill="#7a86b0" opacity="0.55"/>
<circle cx="140.6" cy="818.0" r="0.821720009099561" fill="#7a86b0" opacity="0.55"/>
<circle cx="52.1" cy="721.6" r="1.1510800179489074" fill="#7a86b0" opacity="0.55"/>
<circle cx="79.9" cy="756.4" r="1.2297923948401581" fill="#7a86b0" opacity="0.55"/>
<circle cx="85.3" cy="763.4" r="1.0789189713142027" fill="#7a86b0" opacity="0.55"/>
<circle cx="130.1" cy="808.9" r="1.1797467025536015" fill="#7a86b0" opacity="0.55"/>
<circle cx="145.7" cy="786.8" r="1.2496416467001423" fill="#7a86b0" opacity="0.55"/>
<circle cx="105.9" cy="764.5" r="1.0326204312484686" fill="#7a86b0" opacity="0.55"/>
<circle cx="159.0" cy="759.3" r="1.1981862074427432" fill="#7a86b0" opacity="0.55"/>
<circle cx="105.0" cy="817.7" r="0.8188798882679574" fill="#7a86b0" opacity="0.55"/>
<circle cx="118.6" cy="786.3" r="1.024133338659473" fill="#7a86b0" opacity="0.55"/>
<circle cx="139.1" cy="820.4" r="1.2370003864847723" fill="#7a86b0" opacity="0.55"/>
<circle cx="83.5" cy="823.7" r="1.08933542774212" fill="#7a86b0" opacity="0.55"/>
<circle cx="178.2" cy="825.1" r="1.2225356831738343" fill="#7a86b0" opacity="0.55"/>
<circle cx="177.9" cy="755.3" r="1.1215252937510651" fill="#7a86b0" opacity="0.55"/>
<circle cx="171.0" cy="790.9" r="1.2260637790567885" fill="#7a86b0" opacity="0.55"/>
<circle cx="153.6" cy="806.5" r="1.1727835286382606" fill="#7a86b0" opacity="0.55"/>
<g filter="url(#bl6)">
<ellipse cx="89" cy="741" rx="9" ry="7" fill="#f2f0ec" opacity="0.9"/>
<ellipse cx="120" cy="728" rx="6" ry="5" fill="#f0eee8" opacity="0.8"/>
<ellipse cx="75" cy="808" rx="8" ry="5" transform="rotate(-20 75 808)" fill="#f2f1ee" opacity="0.8"/>
<ellipse cx="165" cy="790" rx="9" ry="5" transform="rotate(30 165 790)" fill="#f2f1ee" opacity="0.7"/>
<ellipse cx="108" cy="800" rx="6" ry="10" fill="#f2f1ee" opacity="0.7"/>
<ellipse cx="85" cy="771" rx="13" ry="12.35" fill="#dadeea" opacity="0.7"/>
<circle cx="76.3" cy="771.3" r="1.0" fill="#6070a8" opacity="0.6"/>
<circle cx="87.4" cy="764.8" r="1.0" fill="#6070a8" opacity="0.6"/>
<circle cx="80.8" cy="779.8" r="1.0" fill="#6070a8" opacity="0.6"/>
<circle cx="78.0" cy="771.6" r="1.0" fill="#6070a8" opacity="0.6"/>
<circle cx="79.4" cy="774.8" r="1.0" fill="#6070a8" opacity="0.6"/>
<circle cx="89.6" cy="779.1" r="1.0" fill="#6070a8" opacity="0.6"/>
<circle cx="92.6" cy="765.0" r="1.0" fill="#6070a8" opacity="0.6"/>
<circle cx="80.5" cy="765.9" r="1.0" fill="#6070a8" opacity="0.6"/>
<circle cx="80.9" cy="772.8" r="1.0" fill="#6070a8" opacity="0.6"/>
<circle cx="84.2" cy="764.7" r="1.0" fill="#6070a8" opacity="0.6"/>
<circle cx="82.0" cy="782.2" r="1.0" fill="#6070a8" opacity="0.6"/>
<circle cx="78.8" cy="780.8" r="1.0" fill="#6070a8" opacity="0.6"/>
<circle cx="77.5" cy="764.1" r="1.0" fill="#6070a8" opacity="0.6"/>
<circle cx="81.6" cy="767.4" r="1.0" fill="#6070a8" opacity="0.6"/>
<circle cx="83.6" cy="765.2" r="1.0" fill="#6070a8" opacity="0.6"/>
<circle cx="81.5" cy="773.3" r="1.0" fill="#6070a8" opacity="0.6"/>
<circle cx="91.6" cy="773.5" r="1.0" fill="#6070a8" opacity="0.6"/>
<circle cx="92.2" cy="771.6" r="1.0" fill="#6070a8" opacity="0.6"/>
<circle cx="91.9" cy="761.5" r="1.0" fill="#6070a8" opacity="0.6"/>
<circle cx="81.6" cy="772.8" r="1.0" fill="#6070a8" opacity="0.6"/>
<circle cx="83.3" cy="773.4" r="1.0" fill="#6070a8" opacity="0.6"/>
<circle cx="86.9" cy="780.0" r="1.0" fill="#6070a8" opacity="0.6"/>
<circle cx="83.5" cy="769.6" r="1.0" fill="#6070a8" opacity="0.6"/>
<circle cx="77.4" cy="771.6" r="1.0" fill="#6070a8" opacity="0.6"/>
<circle cx="81.6" cy="773.6" r="1.0" fill="#6070a8" opacity="0.6"/>
<circle cx="82.1" cy="773.3" r="1.0" fill="#6070a8" opacity="0.6"/>
<circle cx="81.3" cy="762.3" r="1.0" fill="#6070a8" opacity="0.6"/>
<circle cx="79.8" cy="765.6" r="1.0" fill="#6070a8" opacity="0.6"/>
<circle cx="91.8" cy="769.1" r="1.0" fill="#6070a8" opacity="0.6"/>
<circle cx="87.0" cy="777.9" r="1.0" fill="#6070a8" opacity="0.6"/>
<circle cx="89.0" cy="768.6" r="1.0" fill="#6070a8" opacity="0.6"/>
<circle cx="86.0" cy="759.7" r="1.0" fill="#6070a8" opacity="0.6"/>
<ellipse cx="135" cy="755.6" rx="12.5" ry="11.875" fill="#dadeea" opacity="0.7"/>
<circle cx="139.2" cy="753.6" r="1.0" fill="#6070a8" opacity="0.6"/>
<circle cx="140.4" cy="754.6" r="1.0" fill="#6070a8" opacity="0.6"/>
<circle cx="124.6" cy="757.9" r="1.0" fill="#6070a8" opacity="0.6"/>
<circle cx="130.1" cy="761.9" r="1.0" fill="#6070a8" opacity="0.6"/>
<circle cx="140.8" cy="765.0" r="1.0" fill="#6070a8" opacity="0.6"/>
<circle cx="139.6" cy="755.2" r="1.0" fill="#6070a8" opacity="0.6"/>
<circle cx="140.5" cy="761.0" r="1.0" fill="#6070a8" opacity="0.6"/>
<circle cx="125.2" cy="754.4" r="1.0" fill="#6070a8" opacity="0.6"/>
<circle cx="130.2" cy="762.8" r="1.0" fill="#6070a8" opacity="0.6"/>
<circle cx="137.8" cy="760.0" r="1.0" fill="#6070a8" opacity="0.6"/>
<circle cx="142.3" cy="759.5" r="1.0" fill="#6070a8" opacity="0.6"/>
<circle cx="126.8" cy="752.2" r="1.0" fill="#6070a8" opacity="0.6"/>
<circle cx="140.7" cy="753.1" r="1.0" fill="#6070a8" opacity="0.6"/>
<circle cx="130.8" cy="762.0" r="1.0" fill="#6070a8" opacity="0.6"/>
<circle cx="140.9" cy="753.5" r="1.0" fill="#6070a8" opacity="0.6"/>
<circle cx="133.2" cy="762.7" r="1.0" fill="#6070a8" opacity="0.6"/>
<circle cx="132.8" cy="750.1" r="1.0" fill="#6070a8" opacity="0.6"/>
<circle cx="139.5" cy="764.1" r="1.0" fill="#6070a8" opacity="0.6"/>
<circle cx="127.4" cy="751.7" r="1.0" fill="#6070a8" opacity="0.6"/>
<circle cx="140.6" cy="756.1" r="1.0" fill="#6070a8" opacity="0.6"/>
<circle cx="140.5" cy="759.7" r="1.0" fill="#6070a8" opacity="0.6"/>
<circle cx="144.3" cy="749.3" r="1.0" fill="#6070a8" opacity="0.6"/>
<circle cx="138.9" cy="750.0" r="1.0" fill="#6070a8" opacity="0.6"/>
<circle cx="125.2" cy="751.3" r="1.0" fill="#6070a8" opacity="0.6"/>
<circle cx="131.1" cy="761.5" r="1.0" fill="#6070a8" opacity="0.6"/>
<circle cx="133.5" cy="749.2" r="1.0" fill="#6070a8" opacity="0.6"/>
<circle cx="128.3" cy="756.7" r="1.0" fill="#6070a8" opacity="0.6"/>
<circle cx="138.6" cy="748.3" r="1.0" fill="#6070a8" opacity="0.6"/>
<circle cx="136.2" cy="756.4" r="1.0" fill="#6070a8" opacity="0.6"/>
<circle cx="132.6" cy="752.6" r="1.0" fill="#6070a8" opacity="0.6"/>
<circle cx="132.4" cy="751.0" r="1.0" fill="#6070a8" opacity="0.6"/>
<circle cx="128.5" cy="754.3" r="1.0" fill="#6070a8" opacity="0.6"/>
</g>
</g>
<g clip-path="url(#c6)">
<rect x="191.5" y="719.7" width="135.9" height="109.5" fill="#e4dfdb"/>
<rect x="191.5" y="719.7" width="135.9" height="109.5" filter="url(#fu2)"/>
<rect x="191.5" y="719.7" width="135.9" height="109.5" filter="url(#fu1)"/>
<rect x="191.5" y="719.7" width="135.9" height="109.5" filter="url(#fub)"/>
<circle cx="315.5" cy="773.8" r="1.0829007272532403" fill="#7a86b0" opacity="0.5"/>
<circle cx="239.5" cy="732.1" r="0.9776900296949627" fill="#7a86b0" opacity="0.5"/>
<circle cx="215.0" cy="733.0" r="0.8805373325260785" fill="#7a86b0" opacity="0.5"/>
<circle cx="196.0" cy="780.3" r="0.859542140658088" fill="#7a86b0" opacity="0.5"/>
<circle cx="276.0" cy="760.0" r="1.2533870820856086" fill="#7a86b0" opacity="0.5"/>
<circle cx="280.6" cy="804.1" r="1.1243236549440265" fill="#7a86b0" opacity="0.5"/>
<circle cx="293.7" cy="822.8" r="1.2983545410714576" fill="#7a86b0" opacity="0.5"/>
<circle cx="213.5" cy="752.1" r="0.9463977297355716" fill="#7a86b0" opacity="0.5"/>
<circle cx="220.4" cy="803.8" r="1.2605244773021194" fill="#7a86b0" opacity="0.5"/>
<circle cx="200.2" cy="738.1" r="1.25901573728869" fill="#7a86b0" opacity="0.5"/>
<circle cx="205.8" cy="728.6" r="1.2478265410529221" fill="#7a86b0" opacity="0.5"/>
<circle cx="229.8" cy="721.3" r="1.0845247491317376" fill="#7a86b0" opacity="0.5"/>
<circle cx="217.2" cy="762.0" r="0.963400439327099" fill="#7a86b0" opacity="0.5"/>
<circle cx="302.7" cy="823.1" r="1.2806480857996365" fill="#7a86b0" opacity="0.5"/>
<circle cx="259.0" cy="821.3" r="1.1438156682704652" fill="#7a86b0" opacity="0.5"/>
<circle cx="266.2" cy="790.6" r="1.1283397781920699" fill="#7a86b0" opacity="0.5"/>
<circle cx="315.7" cy="747.5" r="1.2578918845645986" fill="#7a86b0" opacity="0.5"/>
<circle cx="306.6" cy="786.6" r="1.0548337243591617" fill="#7a86b0" opacity="0.5"/>
<circle cx="233.0" cy="824.9" r="1.0102865260206313" fill="#7a86b0" opacity="0.5"/>
<circle cx="199.8" cy="828.2" r="1.1090502468359438" fill="#7a86b0" opacity="0.5"/>
<circle cx="252.4" cy="721.4" r="1.006945497290507" fill="#7a86b0" opacity="0.5"/>
<circle cx="321.1" cy="823.2" r="0.8677625369745312" fill="#7a86b0" opacity="0.5"/>
<circle cx="232.8" cy="827.9" r="1.150030693569613" fill="#7a86b0" opacity="0.5"/>
<circle cx="264.8" cy="734.5" r="1.1152461246579466" fill="#7a86b0" opacity="0.5"/>
<circle cx="197.0" cy="723.9" r="1.1568337621429285" fill="#7a86b0" opacity="0.5"/>
<circle cx="202.0" cy="828.5" r="0.9081499847888401" fill="#7a86b0" opacity="0.5"/>
<circle cx="198.8" cy="758.1" r="0.9350320603652276" fill="#7a86b0" opacity="0.5"/>
<circle cx="319.8" cy="766.2" r="0.9681234522894473" fill="#7a86b0" opacity="0.5"/>
<circle cx="263.1" cy="750.7" r="0.8073286454076949" fill="#7a86b0" opacity="0.5"/>
<circle cx="196.6" cy="793.1" r="1.0632021302493326" fill="#7a86b0" opacity="0.5"/>
<circle cx="192.2" cy="828.2" r="1.07331932771303" fill="#7a86b0" opacity="0.5"/>
<circle cx="256.4" cy="755.8" r="1.2779664448405208" fill="#7a86b0" opacity="0.5"/>
<circle cx="240.3" cy="720.2" r="1.2356402592592652" fill="#7a86b0" opacity="0.5"/>
<circle cx="271.4" cy="819.9" r="0.9502948220843057" fill="#7a86b0" opacity="0.5"/>
<circle cx="325.4" cy="723.9" r="0.9416907166063406" fill="#7a86b0" opacity="0.5"/>
<circle cx="211.9" cy="767.8" r="1.204675234399488" fill="#7a86b0" opacity="0.5"/>
<circle cx="257.4" cy="773.1" r="1.117305745292461" fill="#7a86b0" opacity="0.5"/>
<circle cx="216.8" cy="827.9" r="0.871731686510167" fill="#7a86b0" opacity="0.5"/>
<circle cx="250.4" cy="799.1" r="1.189977486907912" fill="#7a86b0" opacity="0.5"/>
<circle cx="210.9" cy="770.9" r="1.0422880747568832" fill="#7a86b0" opacity="0.5"/>
<circle cx="248.6" cy="739.8" r="1.141106554080502" fill="#7a86b0" opacity="0.5"/>
<circle cx="256.2" cy="763.1" r="1.1471907853484178" fill="#7a86b0" opacity="0.5"/>
<circle cx="250.2" cy="772.4" r="1.003742262198101" fill="#7a86b0" opacity="0.5"/>
<circle cx="296.2" cy="746.0" r="0.8001537413880744" fill="#7a86b0" opacity="0.5"/>
<circle cx="238.0" cy="757.8" r="0.8182192329476491" fill="#7a86b0" opacity="0.5"/>
<circle cx="272.6" cy="777.1" r="0.902366461393286" fill="#7a86b0" opacity="0.5"/>
<circle cx="268.4" cy="739.3" r="1.1253770107780476" fill="#7a86b0" opacity="0.5"/>
<circle cx="221.7" cy="794.7" r="0.9226655674227817" fill="#7a86b0" opacity="0.5"/>
<circle cx="308.4" cy="818.4" r="0.8388368144021853" fill="#7a86b0" opacity="0.5"/>
<circle cx="318.7" cy="736.2" r="1.272687885359108" fill="#7a86b0" opacity="0.5"/>
<circle cx="315.5" cy="742.9" r="1.129475391979099" fill="#7a86b0" opacity="0.5"/>
<circle cx="211.9" cy="826.9" r="0.9378160551502068" fill="#7a86b0" opacity="0.5"/>
<circle cx="282.3" cy="761.4" r="0.9208538945001323" fill="#7a86b0" opacity="0.5"/>
<circle cx="209.3" cy="743.1" r="1.2528748317859688" fill="#7a86b0" opacity="0.5"/>
<circle cx="226.9" cy="754.2" r="1.1747276849985353" fill="#7a86b0" opacity="0.5"/>
<circle cx="324.7" cy="769.0" r="0.9478524990962188" fill="#7a86b0" opacity="0.5"/>
<circle cx="295.2" cy="760.6" r="0.9734855380916533" fill="#7a86b0" opacity="0.5"/>
<circle cx="278.0" cy="759.8" r="1.2852730469955114" fill="#7a86b0" opacity="0.5"/>
<circle cx="239.4" cy="775.9" r="0.9185269757821303" fill="#7a86b0" opacity="0.5"/>
<circle cx="309.1" cy="735.4" r="1.2158654136814748" fill="#7a86b0" opacity="0.5"/>
<circle cx="293.3" cy="810.7" r="1.1931027622869457" fill="#7a86b0" opacity="0.5"/>
<circle cx="200.8" cy="813.3" r="1.296407617377145" fill="#7a86b0" opacity="0.5"/>
<circle cx="205.2" cy="771.5" r="1.095426015893274" fill="#7a86b0" opacity="0.5"/>
<circle cx="291.8" cy="813.2" r="1.1688441619945718" fill="#7a86b0" opacity="0.5"/>
<circle cx="269.0" cy="813.8" r="1.0992857814717691" fill="#7a86b0" opacity="0.5"/>
<circle cx="250.1" cy="774.4" r="1.117587025451943" fill="#7a86b0" opacity="0.5"/>
<circle cx="242.9" cy="757.5" r="1.1027887976465383" fill="#7a86b0" opacity="0.5"/>
<circle cx="193.9" cy="724.9" r="1.0965844740061859" fill="#7a86b0" opacity="0.5"/>
<circle cx="194.7" cy="784.5" r="1.1941161922928634" fill="#7a86b0" opacity="0.5"/>
<circle cx="267.6" cy="819.7" r="1.0285034178005927" fill="#7a86b0" opacity="0.5"/>
<circle cx="222.0" cy="771.1" r="0.8386303357072691" fill="#7a86b0" opacity="0.5"/>
<circle cx="279.1" cy="747.9" r="0.9062528484356713" fill="#7a86b0" opacity="0.5"/>
<circle cx="200.0" cy="733.5" r="1.2997571036532978" fill="#7a86b0" opacity="0.5"/>
<circle cx="221.1" cy="762.1" r="0.9037107353669975" fill="#7a86b0" opacity="0.5"/>
<circle cx="311.4" cy="773.2" r="0.9784631410124229" fill="#7a86b0" opacity="0.5"/>
<circle cx="227.9" cy="768.8" r="1.1823552654663287" fill="#7a86b0" opacity="0.5"/>
<circle cx="297.0" cy="752.5" r="1.012103804425374" fill="#7a86b0" opacity="0.5"/>
<circle cx="207.7" cy="822.9" r="1.2745350233494335" fill="#7a86b0" opacity="0.5"/>
<circle cx="196.1" cy="760.0" r="1.213246825347017" fill="#7a86b0" opacity="0.5"/>
<circle cx="192.1" cy="758.7" r="1.0502363499693748" fill="#7a86b0" opacity="0.5"/>
<circle cx="278.6" cy="808.4" r="0.9436120078444904" fill="#7a86b0" opacity="0.5"/>
<circle cx="238.1" cy="723.1" r="1.0949115853047513" fill="#7a86b0" opacity="0.5"/>
<circle cx="242.6" cy="778.7" r="0.8684702166294055" fill="#7a86b0" opacity="0.5"/>
<circle cx="196.0" cy="801.5" r="1.1119368118659008" fill="#7a86b0" opacity="0.5"/>
<circle cx="253.2" cy="732.2" r="1.270734128026108" fill="#7a86b0" opacity="0.5"/>
<circle cx="289.2" cy="771.8" r="1.270590621546861" fill="#7a86b0" opacity="0.5"/>
<circle cx="223.3" cy="808.3" r="0.8276809557265324" fill="#7a86b0" opacity="0.5"/>
<circle cx="297.1" cy="827.7" r="1.2865084281731647" fill="#7a86b0" opacity="0.5"/>
<circle cx="290.7" cy="765.8" r="1.088566918771504" fill="#7a86b0" opacity="0.5"/>
<circle cx="228.2" cy="749.8" r="0.9356680704989839" fill="#7a86b0" opacity="0.5"/>
<circle cx="310.5" cy="810.4" r="1.230547941108186" fill="#7a86b0" opacity="0.5"/>
<circle cx="278.8" cy="760.3" r="0.9361350045954694" fill="#7a86b0" opacity="0.5"/>
<circle cx="194.7" cy="759.5" r="0.8831489929954557" fill="#7a86b0" opacity="0.5"/>
<circle cx="253.8" cy="752.4" r="0.8137904103783912" fill="#7a86b0" opacity="0.5"/>
<circle cx="284.9" cy="733.4" r="0.901786946546466" fill="#7a86b0" opacity="0.5"/>
<circle cx="192.7" cy="748.4" r="0.9563359853296018" fill="#7a86b0" opacity="0.5"/>
<circle cx="203.4" cy="792.8" r="1.2775468267851788" fill="#7a86b0" opacity="0.5"/>
<circle cx="241.5" cy="806.7" r="1.2709257863562733" fill="#7a86b0" opacity="0.5"/>
<circle cx="241.5" cy="770.2" r="1.1544617596797484" fill="#7a86b0" opacity="0.5"/>
<circle cx="316.1" cy="743.7" r="0.8535106191390769" fill="#7a86b0" opacity="0.5"/>
<circle cx="304.4" cy="721.0" r="1.176834163580581" fill="#7a86b0" opacity="0.5"/>
<circle cx="201.1" cy="826.1" r="1.1132155338249015" fill="#7a86b0" opacity="0.5"/>
<circle cx="228.4" cy="820.7" r="1.0383291913511785" fill="#7a86b0" opacity="0.5"/>
<circle cx="311.8" cy="818.4" r="1.2886741525252248" fill="#7a86b0" opacity="0.5"/>
<circle cx="218.1" cy="780.1" r="1.0697065061596591" fill="#7a86b0" opacity="0.5"/>
<circle cx="271.1" cy="812.4" r="0.8924989022185001" fill="#7a86b0" opacity="0.5"/>
<circle cx="272.6" cy="796.4" r="0.9366396365841856" fill="#7a86b0" opacity="0.5"/>
<circle cx="251.9" cy="828.1" r="0.8127368089104374" fill="#7a86b0" opacity="0.5"/>
<circle cx="317.6" cy="726.0" r="1.2114483182027018" fill="#7a86b0" opacity="0.5"/>
<circle cx="200.9" cy="731.6" r="0.8143994504989659" fill="#7a86b0" opacity="0.5"/>
<circle cx="199.5" cy="802.0" r="0.8744304143653185" fill="#7a86b0" opacity="0.5"/>
<circle cx="312.9" cy="742.9" r="1.1630443365889465" fill="#7a86b0" opacity="0.5"/>
<circle cx="229.8" cy="828.1" r="1.2846712490315944" fill="#7a86b0" opacity="0.5"/>
<circle cx="260.2" cy="797.9" r="0.8133496402966032" fill="#7a86b0" opacity="0.5"/>
<circle cx="258.3" cy="802.8" r="0.9138037283162544" fill="#7a86b0" opacity="0.5"/>
<circle cx="256.5" cy="806.6" r="1.1214186813387212" fill="#7a86b0" opacity="0.5"/>
<circle cx="215.4" cy="804.6" r="0.9688700314294787" fill="#7a86b0" opacity="0.5"/>
<circle cx="206.2" cy="775.6" r="1.0617246565564198" fill="#7a86b0" opacity="0.5"/>
<circle cx="218.3" cy="800.6" r="1.262646516647174" fill="#7a86b0" opacity="0.5"/>
<circle cx="230.9" cy="823.3" r="1.1483809352557506" fill="#7a86b0" opacity="0.5"/>
<circle cx="211.5" cy="770.0" r="1.1568934395093675" fill="#7a86b0" opacity="0.5"/>
<circle cx="308.8" cy="816.6" r="0.9428470338602375" fill="#7a86b0" opacity="0.5"/>
<circle cx="205.7" cy="783.5" r="0.9799998297357555" fill="#7a86b0" opacity="0.5"/>
<circle cx="264.8" cy="787.5" r="1.2629705011142813" fill="#7a86b0" opacity="0.5"/>
<circle cx="249.7" cy="813.5" r="1.1932420774995516" fill="#7a86b0" opacity="0.5"/>
<circle cx="228.8" cy="799.1" r="1.2504513926852143" fill="#7a86b0" opacity="0.5"/>
<circle cx="237.2" cy="748.3" r="1.226860556331825" fill="#7a86b0" opacity="0.5"/>
<circle cx="202.9" cy="734.3" r="1.2804467694780926" fill="#7a86b0" opacity="0.5"/>
<circle cx="251.8" cy="773.8" r="1.1451645870234086" fill="#7a86b0" opacity="0.5"/>
<circle cx="323.0" cy="776.1" r="0.9546987217374241" fill="#7a86b0" opacity="0.5"/>
<circle cx="279.6" cy="824.2" r="1.1936011614110638" fill="#7a86b0" opacity="0.5"/>
<circle cx="218.8" cy="723.0" r="1.0246015232487937" fill="#7a86b0" opacity="0.5"/>
<circle cx="294.9" cy="804.1" r="1.0207519550427473" fill="#7a86b0" opacity="0.5"/>
<circle cx="202.0" cy="768.4" r="1.2535713499306154" fill="#7a86b0" opacity="0.5"/>
<circle cx="264.9" cy="739.6" r="0.8839364069963811" fill="#7a86b0" opacity="0.5"/>
<circle cx="277.9" cy="814.7" r="0.9158158336047406" fill="#7a86b0" opacity="0.5"/>
<circle cx="221.3" cy="742.8" r="1.1129207038626576" fill="#7a86b0" opacity="0.5"/>
<circle cx="310.9" cy="792.2" r="0.8615177010972361" fill="#7a86b0" opacity="0.5"/>
<circle cx="197.9" cy="772.1" r="0.8726286780031739" fill="#7a86b0" opacity="0.5"/>
<circle cx="294.5" cy="725.0" r="1.0423782624453746" fill="#7a86b0" opacity="0.5"/>
<circle cx="201.1" cy="790.1" r="1.2594980949112806" fill="#7a86b0" opacity="0.5"/>
<circle cx="287.1" cy="741.0" r="1.2132913186602257" fill="#7a86b0" opacity="0.5"/>
<circle cx="251.3" cy="824.3" r="1.066624455405873" fill="#7a86b0" opacity="0.5"/>
<circle cx="284.2" cy="814.8" r="0.986184907477675" fill="#7a86b0" opacity="0.5"/>
<circle cx="251.2" cy="753.9" r="0.9363274674348263" fill="#7a86b0" opacity="0.5"/>
<circle cx="220.0" cy="789.3" r="1.2383639149997792" fill="#7a86b0" opacity="0.5"/>
<circle cx="251.5" cy="827.0" r="1.2290066801185953" fill="#7a86b0" opacity="0.5"/>
<circle cx="192.5" cy="808.3" r="0.9760632809874792" fill="#7a86b0" opacity="0.5"/>
<circle cx="224.9" cy="784.9" r="0.9036323376871731" fill="#7a86b0" opacity="0.5"/>
<circle cx="269.4" cy="823.2" r="0.8748996576386827" fill="#7a86b0" opacity="0.5"/>
<circle cx="265.4" cy="781.7" r="1.2703028592663075" fill="#7a86b0" opacity="0.5"/>
<circle cx="260.5" cy="821.9" r="1.1727493584996993" fill="#7a86b0" opacity="0.5"/>
<circle cx="275.9" cy="814.0" r="1.2169269597374301" fill="#7a86b0" opacity="0.5"/>
<circle cx="293.3" cy="807.0" r="0.9429722585767077" fill="#7a86b0" opacity="0.5"/>
<circle cx="315.0" cy="811.6" r="1.214589852495514" fill="#7a86b0" opacity="0.5"/>
<circle cx="306.3" cy="816.0" r="0.8379119544125094" fill="#7a86b0" opacity="0.5"/>
<circle cx="247.3" cy="789.1" r="1.0117128463102498" fill="#7a86b0" opacity="0.5"/>
<circle cx="199.0" cy="786.3" r="0.9903812679468872" fill="#7a86b0" opacity="0.5"/>
<circle cx="209.9" cy="774.3" r="0.977143935022323" fill="#7a86b0" opacity="0.5"/>
<circle cx="223.6" cy="801.4" r="1.0595976246090872" fill="#7a86b0" opacity="0.5"/>
<circle cx="265.3" cy="772.7" r="1.2282428008813906" fill="#7a86b0" opacity="0.5"/>
<circle cx="208.2" cy="787.9" r="1.068642634223037" fill="#7a86b0" opacity="0.5"/>
<circle cx="321.7" cy="732.6" r="1.0255480793852623" fill="#7a86b0" opacity="0.5"/>
<circle cx="309.3" cy="760.8" r="1.082620607614877" fill="#7a86b0" opacity="0.5"/>
<circle cx="288.5" cy="812.7" r="1.2574390704529579" fill="#7a86b0" opacity="0.5"/>
<circle cx="327.2" cy="820.6" r="1.2670404899272207" fill="#7a86b0" opacity="0.5"/>
<circle cx="216.4" cy="756.8" r="0.8518357884346409" fill="#7a86b0" opacity="0.5"/>
<circle cx="304.2" cy="776.1" r="1.1075226633291524" fill="#7a86b0" opacity="0.5"/>
<circle cx="239.9" cy="809.7" r="1.0569963161088527" fill="#7a86b0" opacity="0.5"/>
<circle cx="271.9" cy="780.2" r="1.1646822801036762" fill="#7a86b0" opacity="0.5"/>
<circle cx="193.5" cy="823.5" r="0.9427785817972228" fill="#7a86b0" opacity="0.5"/>
<circle cx="319.1" cy="756.7" r="1.0297160179157145" fill="#7a86b0" opacity="0.5"/>
<circle cx="292.0" cy="753.8" r="1.0396895037131637" fill="#7a86b0" opacity="0.5"/>
<circle cx="256.9" cy="741.9" r="1.1009145325534937" fill="#7a86b0" opacity="0.5"/>
<circle cx="302.9" cy="784.8" r="1.251932733043274" fill="#7a86b0" opacity="0.5"/>
<circle cx="266.8" cy="734.8" r="1.103798297264221" fill="#7a86b0" opacity="0.5"/>
<circle cx="239.2" cy="734.9" r="1.1509993582831999" fill="#7a86b0" opacity="0.5"/>
<circle cx="313.3" cy="797.9" r="0.9171493445558856" fill="#7a86b0" opacity="0.5"/>
<circle cx="317.8" cy="767.4" r="0.8177051160239625" fill="#7a86b0" opacity="0.5"/>
<circle cx="236.3" cy="732.0" r="0.8693530433320006" fill="#7a86b0" opacity="0.5"/>
<circle cx="211.4" cy="768.1" r="0.8876372692553935" fill="#7a86b0" opacity="0.5"/>
<circle cx="209.1" cy="726.9" r="1.125655664412732" fill="#7a86b0" opacity="0.5"/>
<circle cx="322.2" cy="771.2" r="1.206768199201766" fill="#7a86b0" opacity="0.5"/>
<circle cx="311.1" cy="817.6" r="0.9047818577404392" fill="#7a86b0" opacity="0.5"/>
<circle cx="215.7" cy="741.6" r="1.1842923940866479" fill="#7a86b0" opacity="0.5"/>
<circle cx="325.4" cy="822.8" r="1.0379187772895673" fill="#7a86b0" opacity="0.5"/>
<circle cx="275.1" cy="803.7" r="0.9875775833697846" fill="#7a86b0" opacity="0.5"/>
<circle cx="239.2" cy="750.9" r="1.2348783821190015" fill="#7a86b0" opacity="0.5"/>
<circle cx="321.6" cy="795.8" r="1.0792477670430498" fill="#7a86b0" opacity="0.5"/>
<circle cx="280.9" cy="720.6" r="1.073839108790563" fill="#7a86b0" opacity="0.5"/>
<circle cx="305.3" cy="730.6" r="0.8125302229190952" fill="#7a86b0" opacity="0.5"/>
<circle cx="201.3" cy="767.6" r="1.221524627292521" fill="#7a86b0" opacity="0.5"/>
<circle cx="270.0" cy="761.5" r="0.9201113892038013" fill="#7a86b0" opacity="0.5"/>
<circle cx="287.8" cy="790.4" r="0.9148337339839996" fill="#7a86b0" opacity="0.5"/>
<circle cx="319.1" cy="725.7" r="1.1964460817503242" fill="#7a86b0" opacity="0.5"/>
<circle cx="243.4" cy="774.9" r="1.1307428392843415" fill="#7a86b0" opacity="0.5"/>
<circle cx="253.4" cy="752.3" r="0.9669564037833078" fill="#7a86b0" opacity="0.5"/>
<circle cx="280.6" cy="755.7" r="1.2601764730835865" fill="#7a86b0" opacity="0.5"/>
<circle cx="214.4" cy="735.4" r="1.0358171437716461" fill="#7a86b0" opacity="0.5"/>
<circle cx="212.8" cy="730.0" r="1.2488523761808767" fill="#7a86b0" opacity="0.5"/>
<g filter="url(#bl6)">
<path d="M214,735 C216,726 226,722 231,728 C235,734 232,748 228,756 C224,762 216,762 214,754 C212,748 213,741 214,735Z" fill="#f2f0ec"/>
<path d="M259,754 C263,748 272,750 275,757 C277,764 276,772 270,775 C263,776 258,770 258,763Z" fill="#f2f0ec"/>
<ellipse cx="309.5" cy="775" rx="21" ry="9" transform="rotate(-42 309.5 775)" fill="#f2f0ec"/>
<path d="M216,800 C222,792 234,793 238,800 C242,808 240,820 232,824 C224,826 216,822 214,814Z" fill="#f2f0ec"/>
<path d="M276,799 C282,792 300,792 312,798 C316,802 312,808 302,808 C290,808 280,807 276,803Z" fill="#f2f0ec"/>
<ellipse cx="233.8" cy="772.3" rx="13" ry="12.5" fill="#dfe2ee" opacity="0.95"/>
<circle cx="226.5" cy="772.0" r="1.0" fill="#6070a8" opacity="0.65"/>
<circle cx="227.5" cy="769.9" r="1.0" fill="#6070a8" opacity="0.65"/>
<circle cx="236.0" cy="768.6" r="1.0" fill="#6070a8" opacity="0.65"/>
<circle cx="224.8" cy="775.2" r="1.0" fill="#6070a8" opacity="0.65"/>
<circle cx="225.7" cy="765.9" r="1.0" fill="#6070a8" opacity="0.65"/>
<circle cx="232.2" cy="778.6" r="1.0" fill="#6070a8" opacity="0.65"/>
<circle cx="232.5" cy="776.0" r="1.0" fill="#6070a8" opacity="0.65"/>
<circle cx="240.7" cy="775.8" r="1.0" fill="#6070a8" opacity="0.65"/>
<circle cx="231.4" cy="780.2" r="1.0" fill="#6070a8" opacity="0.65"/>
<circle cx="244.2" cy="769.7" r="1.0" fill="#6070a8" opacity="0.65"/>
<circle cx="234.9" cy="766.2" r="1.0" fill="#6070a8" opacity="0.65"/>
<circle cx="226.2" cy="779.1" r="1.0" fill="#6070a8" opacity="0.65"/>
<circle cx="234.8" cy="782.1" r="1.0" fill="#6070a8" opacity="0.65"/>
<circle cx="234.0" cy="779.5" r="1.0" fill="#6070a8" opacity="0.65"/>
<circle cx="223.9" cy="768.6" r="1.0" fill="#6070a8" opacity="0.65"/>
<circle cx="232.7" cy="762.5" r="1.0" fill="#6070a8" opacity="0.65"/>
<circle cx="230.1" cy="777.5" r="1.0" fill="#6070a8" opacity="0.65"/>
<circle cx="239.5" cy="766.3" r="1.0" fill="#6070a8" opacity="0.65"/>
<circle cx="233.2" cy="769.0" r="1.0" fill="#6070a8" opacity="0.65"/>
<circle cx="240.3" cy="775.0" r="1.0" fill="#6070a8" opacity="0.65"/>
<circle cx="231.8" cy="777.5" r="1.0" fill="#6070a8" opacity="0.65"/>
<circle cx="238.0" cy="762.8" r="1.0" fill="#6070a8" opacity="0.65"/>
<circle cx="234.4" cy="775.7" r="1.0" fill="#6070a8" opacity="0.65"/>
<circle cx="235.5" cy="776.6" r="1.0" fill="#6070a8" opacity="0.65"/>
<circle cx="232.7" cy="765.7" r="1.0" fill="#6070a8" opacity="0.65"/>
<circle cx="235.3" cy="772.1" r="1.0" fill="#6070a8" opacity="0.65"/>
<circle cx="230.0" cy="771.4" r="1.0" fill="#6070a8" opacity="0.65"/>
<circle cx="237.7" cy="766.9" r="1.0" fill="#6070a8" opacity="0.65"/>
<circle cx="234.3" cy="780.5" r="1.0" fill="#6070a8" opacity="0.65"/>
<circle cx="234.7" cy="771.3" r="1.0" fill="#6070a8" opacity="0.65"/>
<circle cx="235.1" cy="782.5" r="1.0" fill="#6070a8" opacity="0.65"/>
<circle cx="230.9" cy="773.9" r="1.0" fill="#6070a8" opacity="0.65"/>
</g>
</g>
<line x1="152.6" y1="819.2" x2="178.2" y2="819.2" stroke="#111" stroke-width="2.5"/>
<line x1="292.8" y1="819.7" x2="318" y2="819.7" stroke="#111" stroke-width="2.5"/>
<text x="348.5" y="693.9" font-size="14" text-anchor="start" fill="#000">G</text>
<text x="477.7" y="695.3" font-size="9.6" text-anchor="middle" fill="#000">F4/80<tspan dy="-4" font-size="6.5">+</tspan><tspan dy="4"> cell</tspan></text>
<line x1="401.2" y1="707.4" x2="401.2" y2="741.5" stroke="#111" stroke-width="1.4"/>
<line x1="401.2" y1="749.1" x2="401.2" y2="826" stroke="#111" stroke-width="1.4"/>
<line x1="401.2" y1="740.9" x2="403.8" y2="740.9" stroke="#111" stroke-width="1.3"/>
<line x1="401.2" y1="749.7" x2="403.8" y2="749.7" stroke="#111" stroke-width="1.3"/>
<line x1="398.0" y1="708" x2="401.2" y2="708" stroke="#111" stroke-width="1.3"/>
<text x="396.59999999999997" y="711.1" font-size="8.7" text-anchor="end" fill="#000">200</text>
<line x1="398.0" y1="719" x2="401.2" y2="719" stroke="#111" stroke-width="1.3"/>
<text x="396.59999999999997" y="722.1" font-size="8.7" text-anchor="end" fill="#000">150</text>
<line x1="398.0" y1="729.6" x2="401.2" y2="729.6" stroke="#111" stroke-width="1.3"/>
<text x="396.59999999999997" y="732.7" font-size="8.7" text-anchor="end" fill="#000">100</text>
<line x1="398.0" y1="740.9" x2="401.2" y2="740.9" stroke="#111" stroke-width="1.3"/>
<text x="396.59999999999997" y="744.0" font-size="8.7" text-anchor="end" fill="#000">50</text>
<line x1="398.0" y1="749.7" x2="401.2" y2="749.7" stroke="#111" stroke-width="1.3"/>
<text x="396.59999999999997" y="752.8000000000001" font-size="8.7" text-anchor="end" fill="#000">20</text>
<line x1="398.0" y1="768.4" x2="401.2" y2="768.4" stroke="#111" stroke-width="1.3"/>
<text x="396.59999999999997" y="771.5" font-size="8.7" text-anchor="end" fill="#000">15</text>
<line x1="398.0" y1="787.2" x2="401.2" y2="787.2" stroke="#111" stroke-width="1.3"/>
<text x="396.59999999999997" y="790.3000000000001" font-size="8.7" text-anchor="end" fill="#000">10</text>
<line x1="398.0" y1="806.1" x2="401.2" y2="806.1" stroke="#111" stroke-width="1.3"/>
<text x="396.59999999999997" y="809.2" font-size="8.7" text-anchor="end" fill="#000">5</text>
<line x1="398.0" y1="825.4" x2="401.2" y2="825.4" stroke="#111" stroke-width="1.3"/>
<text x="396.59999999999997" y="828.5" font-size="8.7" text-anchor="end" fill="#000">0</text>
<line x1="400.59999999999997" y1="825.2" x2="555" y2="825.2" stroke="#111" stroke-width="1.45"/>
<line x1="445" y1="825.4" x2="445" y2="830" stroke="#111" stroke-width="1.2"/>
<line x1="510.6" y1="825.4" x2="510.6" y2="830" stroke="#111" stroke-width="1.2"/>
<text x="445" y="837.6" font-size="9.9" text-anchor="middle" fill="#000">Sham</text>
<text x="510.6" y="838.2" font-size="9.9" text-anchor="middle" fill="#000">UUO</text>
<text x="377" y="761" font-size="9.6" text-anchor="middle" fill="#000" transform="rotate(-90 377 761)">F4/80<tspan dy="-4" font-size="6.5">+</tspan><tspan dy="4"> cell/HPF</tspan></text>
<circle cx="445.0" cy="776.0" r="2.4" fill="#22737f"/>
<circle cx="450.0" cy="783.7" r="2.4" fill="#22737f"/>
<circle cx="439.8" cy="787.2" r="2.4" fill="#22737f"/>
<circle cx="450.0" cy="798.2" r="2.4" fill="#22737f"/>
<circle cx="439.8" cy="802.3" r="2.4" fill="#22737f"/>
<circle cx="445.0" cy="791.0" r="2.4" fill="#22737f"/>
<circle cx="510.6" cy="720.4" r="2.4" fill="#8e1629"/>
<circle cx="501.6" cy="727.1" r="2.4" fill="#8e1629"/>
<circle cx="520.0" cy="725.5" r="2.4" fill="#8e1629"/>
<circle cx="520.0" cy="731.6" r="2.4" fill="#8e1629"/>
<circle cx="501.6" cy="735.0" r="2.4" fill="#8e1629"/>
<circle cx="510.6" cy="728.2" r="2.4" fill="#8e1629"/>
<line x1="423.4" y1="790.4" x2="466.6" y2="790.4" stroke="#111" stroke-width="1.3"/>
<line x1="434" y1="786.1" x2="456" y2="786.1" stroke="#111" stroke-width="1.3"/>
<line x1="434" y1="794.4" x2="456" y2="794.4" stroke="#111" stroke-width="1.3"/>
<line x1="445" y1="786.1" x2="445" y2="794.4" stroke="#111" stroke-width="1.3"/>
<line x1="489.0" y1="727.8" x2="532.2" y2="727.8" stroke="#111" stroke-width="1.3"/>
<line x1="502.8" y1="726" x2="518.4" y2="726" stroke="#111" stroke-width="1.3"/>
<line x1="502.8" y1="729.8" x2="518.4" y2="729.8" stroke="#111" stroke-width="1.3"/>
<line x1="510.6" y1="726" x2="510.6" y2="729.8" stroke="#111" stroke-width="1.3"/>
<polygon points="504.10,706.20 504.98,707.99 506.95,708.27 505.53,709.66 505.86,711.63 504.10,710.70 502.34,711.63 502.67,709.66 501.25,708.27 503.22,707.99" fill="#111"/>
<polygon points="510.60,706.20 511.48,707.99 513.45,708.27 512.03,709.66 512.36,711.63 510.60,710.70 508.84,711.63 509.17,709.66 507.75,708.27 509.72,707.99" fill="#111"/>
<polygon points="517.10,706.20 517.98,707.99 519.95,708.27 518.53,709.66 518.86,711.63 517.10,710.70 515.34,711.63 515.67,709.66 514.25,708.27 516.22,707.99" fill="#111"/>
</g></svg></body></html>
